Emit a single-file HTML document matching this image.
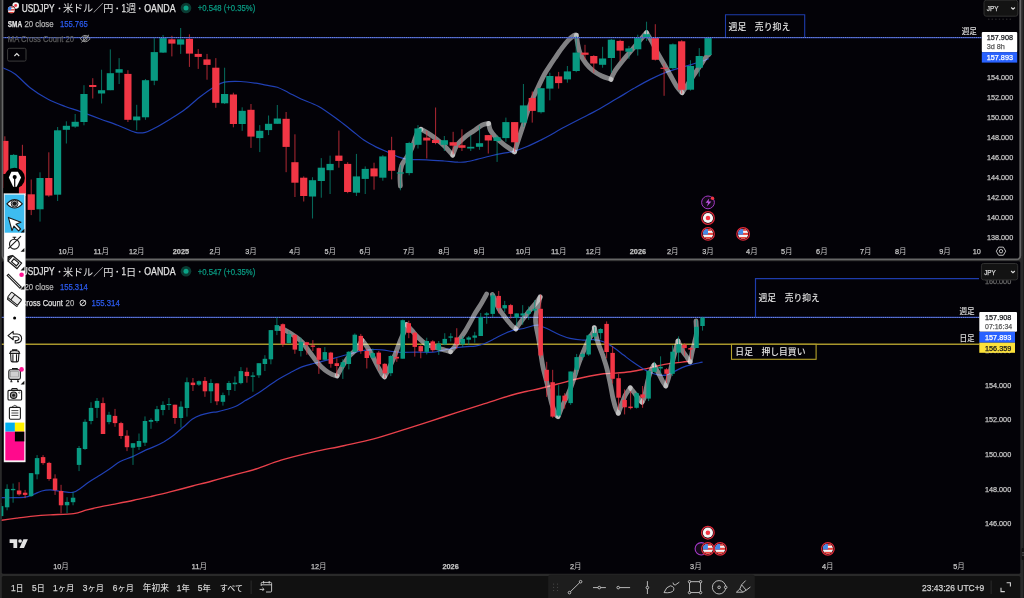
<!DOCTYPE html>
<html><head><meta charset="utf-8"><title>USDJPY</title>
<style>
html,body{margin:0;padding:0;background:#2a2a2a;overflow:hidden}
body{width:1024px;height:598px;font-family:"Liberation Sans",sans-serif}
svg{display:block;will-change:transform;font-family:"Liberation Sans",sans-serif}
.cj{font-family:"Liberation Sans","Noto Sans CJK JP",sans-serif}
</style></head><body>
<svg width="1024" height="598" viewBox="0 0 1024 598">
<rect x="0" y="0" width="1024" height="598" fill="#2a2a2a"/>
<rect x="1023.4" y="0" width="0.6" height="598" fill="#141414"/>
<rect x="1.7" y="-8" width="1019.5" height="268.2" rx="4.5" fill="#666666"/>
<rect x="3.35" y="-8" width="1016" height="266.55" rx="2.8" fill="#030207"/>
<rect x="1.8" y="261.2" width="1018.5" height="312.5" rx="1.5" fill="#030207"/>
<rect x="1.8" y="576" width="1018.5" height="26" rx="1.5" fill="#111111"/>
<clipPath id="ct"><rect x="3.3" y="0" width="1015.9" height="258.5"/></clipPath>
<g id="top" clip-path="url(#ct)">
<path d="M725.5 37.4V14.8H804.7V37.4" fill="none" stroke="#1e3cac" stroke-width="1.1"/>
<text class="cj" x="728.52" y="29.50" font-size="8.9" font-weight="500" fill="#e6e6e6">週足</text>
<text class="cj" x="754.77" y="29.50" font-size="8.9" font-weight="500" fill="#e6e6e6">売り抑え</text>
<path d="M3.3 68.0 C5.2 69.0 10.5 70.6 15.0 73.9 C19.5 77.2 24.7 83.5 30.1 87.7 C35.5 91.9 41.8 95.9 47.6 99.0 C53.5 102.1 59.8 104.4 65.2 106.5 C70.6 108.6 74.4 109.4 80.2 111.5 C86.0 113.6 94.0 116.7 100.3 119.0 C106.6 121.3 112.0 123.1 117.8 125.3 C123.6 127.5 130.7 131.1 135.3 132.3 C139.9 133.5 142.1 133.1 145.4 132.3 C148.8 131.6 151.2 130.0 155.4 127.8 C159.6 125.6 165.4 122.1 170.4 119.0 C175.4 115.9 180.5 112.8 185.5 109.0 C190.5 105.2 195.9 100.0 200.5 96.5 C205.1 93.0 209.0 90.1 213.0 87.7 C217.0 85.3 219.7 83.2 224.3 82.2 C228.9 81.2 235.3 81.3 240.6 81.5 C245.9 81.7 251.8 82.6 256.0 83.2 C260.2 83.8 262.4 84.5 266.0 85.2 C269.6 85.9 273.5 86.0 277.3 87.2 C281.1 88.5 284.6 90.7 288.6 92.7 C292.6 94.7 296.1 96.7 301.1 99.0 C306.1 101.3 312.4 103.0 318.7 106.5 C325.0 110.0 332.4 115.7 338.7 120.3 C345.0 124.9 352.1 130.8 356.3 134.1 C360.5 137.4 360.5 137.9 363.8 140.1 C367.1 142.3 372.1 145.0 376.3 147.1 C380.5 149.2 385.0 150.9 388.8 152.6 C392.6 154.3 395.5 156.0 398.9 157.1 C402.2 158.2 404.3 158.9 408.9 159.4 C413.5 159.9 420.5 159.5 426.4 159.8 C432.2 160.1 438.7 160.6 444.0 161.0 C449.3 161.4 454.3 162.0 458.0 162.2 C461.7 162.3 462.8 162.4 466.0 161.9 C469.2 161.4 472.9 160.4 477.0 159.4 C481.1 158.4 485.9 157.0 490.3 156.0 C494.8 155.0 499.6 154.0 503.7 153.2 C507.8 152.4 510.7 152.1 514.6 151.0 C518.5 149.9 522.8 148.3 527.1 146.5 C531.4 144.7 536.6 142.1 540.5 140.2 C544.4 138.3 546.9 137.1 550.5 135.1 C554.1 133.1 556.0 131.6 562.1 128.3 C568.2 125.0 581.0 118.5 587.4 115.2 C593.8 111.9 595.3 111.4 600.2 108.6 C605.1 105.8 611.3 101.9 616.9 98.6 C622.5 95.3 628.0 91.8 633.6 88.6 C639.2 85.4 644.7 82.2 650.3 79.4 C655.9 76.6 661.5 74.0 667.1 71.9 C672.7 69.8 678.2 68.5 683.8 66.8 C689.4 65.1 696.4 63.1 700.5 61.8 C704.6 60.5 707.2 59.3 708.5 58.8" fill="none" stroke="#2040b4" stroke-width="1.2" stroke-linejoin="round" stroke-linecap="round" />
<path d="M400.4 186.0 C400.3 184.2 399.8 178.8 400.0 175.3 C400.2 171.8 400.7 168.0 401.7 165.2 C402.7 162.4 404.2 161.3 405.9 158.5 C407.6 155.7 410.2 151.8 411.7 148.5 C413.2 145.2 414.1 141.3 415.1 138.5 C416.2 135.7 417.0 133.3 418.0 131.8 C419.0 130.3 420.5 129.7 421.0 129.3" fill="none" stroke="#ffffff" stroke-width="4.8" stroke-linejoin="round" stroke-linecap="round" opacity=".5"/>
<path d="M421.0 129.3 C422.2 130.0 425.9 131.8 428.5 133.5 C431.1 135.2 434.0 137.1 436.8 139.3 C439.6 141.5 442.6 144.2 445.2 146.8 C447.8 149.5 451.4 153.8 452.7 155.2" fill="none" stroke="#ffffff" stroke-width="4.8" stroke-linejoin="round" stroke-linecap="round" opacity=".5"/>
<path d="M452.7 155.2 C453.4 153.5 454.8 148.3 456.9 145.2 C459.0 142.1 462.5 139.2 465.3 136.8 C468.1 134.4 470.8 132.9 473.6 131.0 C476.4 129.1 479.5 126.4 482.0 125.1 C484.5 123.8 487.6 123.7 488.7 123.4" fill="none" stroke="#ffffff" stroke-width="4.8" stroke-linejoin="round" stroke-linecap="round" opacity=".5"/>
<path d="M488.7 123.4 C489.0 124.5 489.2 127.9 490.3 130.1 C491.4 132.3 493.2 134.4 495.4 136.8 C497.6 139.2 500.5 141.8 503.7 144.3 C506.9 146.8 512.8 150.6 514.6 151.9" fill="none" stroke="#ffffff" stroke-width="4.8" stroke-linejoin="round" stroke-linecap="round" opacity=".5"/>
<path d="M514.6 151.9 C515.2 150.1 516.6 145.3 518.0 141.0 C519.4 136.7 521.1 131.8 523.0 126.0 C524.9 120.2 527.2 112.1 529.5 106.0 C531.8 99.9 534.5 94.8 537.0 89.5 C539.5 84.2 542.4 78.0 544.6 74.0 C546.8 70.0 548.3 68.2 550.0 65.5 C551.7 62.8 553.0 60.9 555.0 58.0 C557.0 55.1 559.5 51.4 561.7 48.4 C563.9 45.4 566.3 42.3 568.4 40.1 C570.5 37.9 572.9 36.2 574.2 35.4 C575.5 34.6 576.0 35.1 576.4 35.1" fill="none" stroke="#ffffff" stroke-width="4.8" stroke-linejoin="round" stroke-linecap="round" opacity=".5"/>
<path d="M576.4 35.1 C576.6 36.5 577.0 40.3 577.6 43.4 C578.2 46.5 578.7 50.1 580.1 53.5 C581.5 56.9 583.8 60.6 586.0 63.5 C588.2 66.4 590.9 68.9 593.5 71.0 C596.1 73.1 598.9 74.6 601.8 76.0 C604.7 77.4 609.5 78.8 611.0 79.4" fill="none" stroke="#ffffff" stroke-width="4.8" stroke-linejoin="round" stroke-linecap="round" opacity=".5"/>
<path d="M611.0 79.4 C611.6 78.2 612.6 74.8 614.4 71.9 C616.2 69.0 619.2 65.2 621.9 61.8 C624.5 58.4 627.5 55.1 630.3 51.8 C633.1 48.5 635.9 45.0 638.6 41.8 C641.3 38.6 645.2 34.1 646.5 32.6" fill="none" stroke="#ffffff" stroke-width="4.8" stroke-linejoin="round" stroke-linecap="round" opacity=".5"/>
<path d="M646.5 32.6 C647.4 34.1 650.2 38.6 652.0 41.8 C653.8 45.0 655.0 48.2 657.0 51.8 C659.0 55.4 661.5 59.6 663.7 63.5 C665.9 67.4 668.2 71.3 670.4 75.2 C672.6 79.1 675.1 84.0 677.1 86.9 C679.1 89.8 681.3 91.8 682.1 92.8" fill="none" stroke="#ffffff" stroke-width="4.8" stroke-linejoin="round" stroke-linecap="round" opacity=".5"/>
<path d="M682.1 92.8 C682.9 91.5 685.2 88.1 687.1 85.2 C689.0 82.3 691.6 78.5 693.8 75.2 C696.0 71.9 698.5 68.1 700.5 65.2 C702.5 62.3 704.1 59.4 705.5 57.6 C706.9 55.8 708.3 54.8 708.9 54.3" fill="none" stroke="#ffffff" stroke-width="4.8" stroke-linejoin="round" stroke-linecap="round" opacity=".5"/>
<rect x="4.30" y="136.3" width="1.1" height="55.7" fill="#f23645" opacity=".66"/>
<rect x="1.25" y="140.9" width="7.20" height="47.1" fill="#f23645"/>
<rect x="13.09" y="154.0" width="1.1" height="26.0" fill="#089981" opacity=".66"/>
<rect x="10.04" y="154.9" width="7.20" height="21.1" fill="#089981"/>
<rect x="21.88" y="144.8" width="1.1" height="53.2" fill="#f23645" opacity=".66"/>
<rect x="18.83" y="155.9" width="7.20" height="40.1" fill="#f23645"/>
<rect x="30.67" y="179.5" width="1.1" height="35.6" fill="#f23645" opacity=".66"/>
<rect x="27.62" y="194.3" width="7.20" height="15.6" fill="#f23645"/>
<rect x="39.46" y="172.3" width="1.1" height="49.3" fill="#089981" opacity=".66"/>
<rect x="36.41" y="178.0" width="7.20" height="31.3" fill="#089981"/>
<rect x="48.25" y="152.3" width="1.1" height="44.5" fill="#f23645" opacity=".66"/>
<rect x="45.20" y="178.0" width="7.20" height="17.5" fill="#f23645"/>
<rect x="57.04" y="127.0" width="1.1" height="74.0" fill="#089981" opacity=".66"/>
<rect x="53.99" y="130.3" width="7.20" height="64.4" fill="#089981"/>
<rect x="65.83" y="121.3" width="1.1" height="22.2" fill="#089981" opacity=".66"/>
<rect x="62.78" y="125.8" width="7.20" height="4.0" fill="#089981"/>
<rect x="74.62" y="114.0" width="1.1" height="13.8" fill="#089981" opacity=".66"/>
<rect x="71.57" y="121.8" width="7.20" height="4.8" fill="#089981"/>
<rect x="83.41" y="85.2" width="1.1" height="40.1" fill="#089981" opacity=".66"/>
<rect x="80.36" y="94.0" width="7.20" height="28.0" fill="#089981"/>
<rect x="92.20" y="78.2" width="1.1" height="20.3" fill="#f23645" opacity=".66"/>
<rect x="89.15" y="85.0" width="7.20" height="2.0" fill="#f23645"/>
<rect x="100.99" y="69.7" width="1.1" height="33.8" fill="#089981" opacity=".66"/>
<rect x="97.94" y="90.2" width="7.20" height="3.3" fill="#089981"/>
<rect x="109.78" y="49.4" width="1.1" height="40.8" fill="#089981" opacity=".66"/>
<rect x="106.73" y="73.2" width="7.20" height="17.0" fill="#089981"/>
<rect x="118.57" y="58.1" width="1.1" height="25.9" fill="#089981" opacity=".66"/>
<rect x="115.52" y="69.2" width="7.20" height="3.5" fill="#089981"/>
<rect x="127.36" y="70.2" width="1.1" height="51.8" fill="#f23645" opacity=".66"/>
<rect x="124.31" y="73.9" width="7.20" height="45.9" fill="#f23645"/>
<rect x="136.15" y="104.8" width="1.1" height="25.5" fill="#089981" opacity=".66"/>
<rect x="133.10" y="116.5" width="7.20" height="3.8" fill="#089981"/>
<rect x="144.94" y="79.0" width="1.1" height="40.8" fill="#089981" opacity=".66"/>
<rect x="141.89" y="80.2" width="7.20" height="37.1" fill="#089981"/>
<rect x="153.73" y="37.6" width="1.1" height="47.6" fill="#089981" opacity=".66"/>
<rect x="150.68" y="52.1" width="7.20" height="28.6" fill="#089981"/>
<rect x="162.52" y="35.0" width="1.1" height="18.0" fill="#089981" opacity=".66"/>
<rect x="159.47" y="37.6" width="7.20" height="15.0" fill="#089981"/>
<rect x="171.31" y="35.8" width="1.1" height="20.6" fill="#f23645" opacity=".66"/>
<rect x="168.26" y="39.3" width="7.20" height="4.3" fill="#f23645"/>
<rect x="180.10" y="28.0" width="1.1" height="25.9" fill="#089981" opacity=".66"/>
<rect x="177.05" y="39.3" width="7.20" height="5.3" fill="#089981"/>
<rect x="188.89" y="34.3" width="1.1" height="32.6" fill="#f23645" opacity=".66"/>
<rect x="185.84" y="38.8" width="7.20" height="14.8" fill="#f23645"/>
<rect x="197.68" y="49.1" width="1.1" height="19.8" fill="#f23645" opacity=".66"/>
<rect x="194.63" y="53.9" width="7.20" height="3.0" fill="#f23645"/>
<rect x="206.47" y="53.9" width="1.1" height="25.8" fill="#f23645" opacity=".66"/>
<rect x="203.42" y="59.4" width="7.20" height="5.5" fill="#f23645"/>
<rect x="215.26" y="58.1" width="1.1" height="49.7" fill="#f23645" opacity=".66"/>
<rect x="212.21" y="67.7" width="7.20" height="35.1" fill="#f23645"/>
<rect x="224.05" y="67.7" width="1.1" height="36.3" fill="#089981" opacity=".66"/>
<rect x="221.00" y="94.0" width="7.20" height="9.3" fill="#089981"/>
<rect x="232.84" y="92.7" width="1.1" height="34.6" fill="#f23645" opacity=".66"/>
<rect x="229.79" y="94.5" width="7.20" height="29.5" fill="#f23645"/>
<rect x="241.63" y="107.3" width="1.1" height="23.5" fill="#089981" opacity=".66"/>
<rect x="238.58" y="110.8" width="7.20" height="13.2" fill="#089981"/>
<rect x="250.42" y="104.0" width="1.1" height="43.9" fill="#f23645" opacity=".66"/>
<rect x="247.37" y="109.8" width="7.20" height="26.8" fill="#f23645"/>
<rect x="259.21" y="125.1" width="1.1" height="27.0" fill="#089981" opacity=".66"/>
<rect x="256.16" y="130.8" width="7.20" height="7.3" fill="#089981"/>
<rect x="268.00" y="115.5" width="1.1" height="19.6" fill="#089981" opacity=".66"/>
<rect x="264.95" y="123.8" width="7.20" height="6.3" fill="#089981"/>
<rect x="276.79" y="105.0" width="1.1" height="18.8" fill="#089981" opacity=".66"/>
<rect x="273.74" y="118.5" width="7.20" height="5.3" fill="#089981"/>
<rect x="285.58" y="112.0" width="1.1" height="60.2" fill="#f23645" opacity=".66"/>
<rect x="282.53" y="118.8" width="7.20" height="28.1" fill="#f23645"/>
<rect x="294.37" y="134.3" width="1.1" height="62.7" fill="#f23645" opacity=".66"/>
<rect x="291.32" y="162.2" width="7.20" height="20.5" fill="#f23645"/>
<rect x="303.16" y="176.4" width="1.1" height="25.1" fill="#f23645" opacity=".66"/>
<rect x="300.11" y="177.7" width="7.20" height="18.3" fill="#f23645"/>
<rect x="311.95" y="177.2" width="1.1" height="41.3" fill="#089981" opacity=".66"/>
<rect x="308.90" y="180.2" width="7.20" height="16.3" fill="#089981"/>
<rect x="320.74" y="158.1" width="1.1" height="39.6" fill="#089981" opacity=".66"/>
<rect x="317.69" y="167.7" width="7.20" height="13.3" fill="#089981"/>
<rect x="329.53" y="155.6" width="1.1" height="38.4" fill="#089981" opacity=".66"/>
<rect x="326.48" y="163.9" width="7.20" height="6.3" fill="#089981"/>
<rect x="338.32" y="130.6" width="1.1" height="37.1" fill="#f23645" opacity=".66"/>
<rect x="335.27" y="155.6" width="7.20" height="5.3" fill="#f23645"/>
<rect x="347.11" y="162.2" width="1.1" height="31.0" fill="#f23645" opacity=".66"/>
<rect x="344.06" y="163.9" width="7.20" height="28.1" fill="#f23645"/>
<rect x="355.90" y="153.9" width="1.1" height="42.1" fill="#089981" opacity=".66"/>
<rect x="352.85" y="176.4" width="7.20" height="16.3" fill="#089981"/>
<rect x="364.69" y="166.4" width="1.1" height="27.6" fill="#089981" opacity=".66"/>
<rect x="361.64" y="168.9" width="7.20" height="10.0" fill="#089981"/>
<rect x="373.48" y="162.7" width="1.1" height="27.0" fill="#f23645" opacity=".66"/>
<rect x="370.43" y="168.4" width="7.20" height="8.0" fill="#f23645"/>
<rect x="382.27" y="155.1" width="1.1" height="25.6" fill="#089981" opacity=".66"/>
<rect x="379.22" y="156.4" width="7.20" height="21.3" fill="#089981"/>
<rect x="391.06" y="136.8" width="1.1" height="42.6" fill="#f23645" opacity=".66"/>
<rect x="388.01" y="150.2" width="7.20" height="20.6" fill="#f23645"/>
<rect x="399.85" y="165.2" width="1.1" height="25.1" fill="#089981" opacity=".66"/>
<rect x="396.80" y="172.4" width="7.20" height="1.2" fill="#089981"/>
<rect x="408.64" y="141.8" width="1.1" height="33.5" fill="#089981" opacity=".66"/>
<rect x="405.59" y="143.0" width="7.20" height="30.1" fill="#089981"/>
<rect x="417.43" y="125.1" width="1.1" height="23.4" fill="#089981" opacity=".66"/>
<rect x="414.38" y="128.4" width="7.20" height="16.4" fill="#089981"/>
<rect x="426.22" y="131.0" width="1.1" height="27.5" fill="#f23645" opacity=".66"/>
<rect x="423.17" y="137.6" width="7.20" height="2.9" fill="#f23645"/>
<rect x="435.01" y="107.5" width="1.1" height="36.8" fill="#f23645" opacity=".66"/>
<rect x="431.96" y="139.8" width="7.20" height="3.2" fill="#f23645"/>
<rect x="443.80" y="136.0" width="1.1" height="15.0" fill="#089981" opacity=".66"/>
<rect x="440.75" y="140.2" width="7.20" height="4.6" fill="#089981"/>
<rect x="452.59" y="131.8" width="1.1" height="22.6" fill="#f23645" opacity=".66"/>
<rect x="449.54" y="142.2" width="7.20" height="3.5" fill="#f23645"/>
<rect x="461.38" y="129.3" width="1.1" height="21.7" fill="#f23645" opacity=".66"/>
<rect x="458.33" y="145.2" width="7.20" height="2.6" fill="#f23645"/>
<rect x="470.17" y="135.1" width="1.1" height="15.9" fill="#089981" opacity=".66"/>
<rect x="467.12" y="146.8" width="7.20" height="1.7" fill="#089981"/>
<rect x="478.96" y="125.9" width="1.1" height="23.9" fill="#089981" opacity=".66"/>
<rect x="475.91" y="143.2" width="7.20" height="3.6" fill="#089981"/>
<rect x="487.75" y="135.1" width="1.1" height="18.4" fill="#f23645" opacity=".66"/>
<rect x="484.70" y="135.1" width="7.20" height="5.4" fill="#f23645"/>
<rect x="496.54" y="135.1" width="1.1" height="26.8" fill="#089981" opacity=".66"/>
<rect x="493.49" y="137.3" width="7.20" height="3.7" fill="#089981"/>
<rect x="505.33" y="117.6" width="1.1" height="24.2" fill="#089981" opacity=".66"/>
<rect x="502.28" y="122.1" width="7.20" height="16.0" fill="#089981"/>
<rect x="514.12" y="122.1" width="1.1" height="29.8" fill="#f23645" opacity=".66"/>
<rect x="511.07" y="122.1" width="7.20" height="20.2" fill="#f23645"/>
<rect x="522.91" y="84.0" width="1.1" height="42.8" fill="#089981" opacity=".66"/>
<rect x="519.86" y="105.4" width="7.20" height="17.2" fill="#089981"/>
<rect x="531.70" y="91.5" width="1.1" height="31.1" fill="#f23645" opacity=".66"/>
<rect x="528.65" y="98.0" width="7.20" height="12.9" fill="#f23645"/>
<rect x="540.49" y="88.2" width="1.1" height="25.3" fill="#089981" opacity=".66"/>
<rect x="537.44" y="88.2" width="7.20" height="24.0" fill="#089981"/>
<rect x="549.28" y="72.7" width="1.1" height="27.6" fill="#089981" opacity=".66"/>
<rect x="546.23" y="76.0" width="7.20" height="12.6" fill="#089981"/>
<rect x="558.07" y="71.9" width="1.1" height="16.7" fill="#f23645" opacity=".66"/>
<rect x="555.02" y="76.4" width="7.20" height="6.7" fill="#f23645"/>
<rect x="566.86" y="66.0" width="1.1" height="16.7" fill="#089981" opacity=".66"/>
<rect x="563.81" y="71.4" width="7.20" height="8.0" fill="#089981"/>
<rect x="575.65" y="35.9" width="1.1" height="36.3" fill="#089981" opacity=".66"/>
<rect x="572.60" y="52.6" width="7.20" height="18.4" fill="#089981"/>
<rect x="584.44" y="44.8" width="1.1" height="15.0" fill="#f23645" opacity=".66"/>
<rect x="581.39" y="52.6" width="7.20" height="2.2" fill="#f23645"/>
<rect x="593.23" y="55.1" width="1.1" height="17.6" fill="#f23645" opacity=".66"/>
<rect x="590.18" y="56.0" width="7.20" height="7.5" fill="#f23645"/>
<rect x="602.02" y="46.8" width="1.1" height="20.9" fill="#089981" opacity=".66"/>
<rect x="598.97" y="58.5" width="7.20" height="6.3" fill="#089981"/>
<rect x="610.81" y="38.9" width="1.1" height="33.8" fill="#089981" opacity=".66"/>
<rect x="607.76" y="39.7" width="7.20" height="18.3" fill="#089981"/>
<rect x="619.60" y="39.7" width="1.1" height="21.3" fill="#f23645" opacity=".66"/>
<rect x="616.55" y="40.9" width="7.20" height="9.7" fill="#f23645"/>
<rect x="628.39" y="45.9" width="1.1" height="12.9" fill="#089981" opacity=".66"/>
<rect x="625.34" y="48.4" width="7.20" height="3.4" fill="#089981"/>
<rect x="637.18" y="34.7" width="1.1" height="20.9" fill="#089981" opacity=".66"/>
<rect x="634.13" y="37.6" width="7.20" height="11.7" fill="#089981"/>
<rect x="645.97" y="21.7" width="1.1" height="19.2" fill="#089981" opacity=".66"/>
<rect x="642.92" y="34.2" width="7.20" height="3.0" fill="#089981"/>
<rect x="654.76" y="24.2" width="1.1" height="36.3" fill="#f23645" opacity=".66"/>
<rect x="651.71" y="37.6" width="7.20" height="22.2" fill="#f23645"/>
<rect x="663.55" y="63.5" width="1.1" height="32.3" fill="#f23645" opacity=".66"/>
<rect x="660.50" y="67.7" width="7.20" height="1.1" fill="#f23645"/>
<rect x="672.34" y="43.4" width="1.1" height="25.9" fill="#089981" opacity=".66"/>
<rect x="669.29" y="44.3" width="7.20" height="23.9" fill="#089981"/>
<rect x="681.13" y="40.1" width="1.1" height="53.5" fill="#f23645" opacity=".66"/>
<rect x="678.08" y="41.3" width="7.20" height="48.4" fill="#f23645"/>
<rect x="689.92" y="60.2" width="1.1" height="30.4" fill="#089981" opacity=".66"/>
<rect x="686.87" y="66.0" width="7.20" height="23.7" fill="#089981"/>
<rect x="698.71" y="48.1" width="1.1" height="28.4" fill="#089981" opacity=".66"/>
<rect x="695.66" y="56.0" width="7.20" height="11.7" fill="#089981"/>
<rect x="707.50" y="36.7" width="1.1" height="18.9" fill="#089981" opacity=".66"/>
<rect x="704.45" y="37.6" width="7.20" height="17.5" fill="#089981"/>
<line x1="3.3" y1="37.55" x2="981.5" y2="37.55" stroke="#2946ba" stroke-width="1.3"/>
<line x1="3.3" y1="37.55" x2="981.5" y2="37.55" stroke="#c4cae8" stroke-width="1" stroke-dasharray="0.9 1.0" opacity=".6"/>
</g>
<clipPath id="cb"><rect x="1.6" y="261.3" width="1018.7" height="312.5"/></clipPath>
<g id="bot" clip-path="url(#cb)">
<line x1="1.6" y1="317.45" x2="979.3" y2="317.45" stroke="#2946ba" stroke-width="1.3"/>
<line x1="1.6" y1="317.45" x2="979.3" y2="317.45" stroke="#c4cae8" stroke-width="1" stroke-dasharray="0.9 1.0" opacity=".6"/>
<line x1="1.6" y1="344.2" x2="979.3" y2="344.2" stroke="#a8962c" stroke-width="1.5"/>
<path d="M755.5 317.4V278.6H979" fill="none" stroke="#1e3cac" stroke-width="1.2"/>
<text class="cj" x="758.55" y="301.40" font-size="8.8" font-weight="500" fill="#e6e6e6">週足</text>
<text class="cj" x="784.65" y="301.40" font-size="8.8" font-weight="500" fill="#e6e6e6">売り抑え</text>
<rect x="731.5" y="344.3" width="84.6" height="15" fill="#030207" stroke="#b5a22c" stroke-width="1.1"/>
<text class="cj" x="735.35" y="355.20" font-size="8.8" font-weight="500" fill="#e6e6e6">日足</text>
<text class="cj" x="761.45" y="355.20" font-size="8.8" font-weight="500" fill="#e6e6e6">押し目買い</text>
<path d="M1.7 520.3 C4.2 519.9 11.4 518.8 16.7 518.1 C22.0 517.4 27.8 516.6 33.4 516.1 C39.0 515.6 43.5 515.3 50.2 514.9 C56.9 514.5 67.5 514.4 73.6 513.6 C79.7 512.8 82.5 511.0 87.0 509.9 C91.5 508.8 95.3 507.9 100.3 506.9 C105.3 505.8 111.4 504.7 117.0 503.6 C122.6 502.5 128.2 501.4 133.8 500.2 C139.4 499.0 144.5 498.0 150.5 496.6 C156.5 495.2 163.0 493.7 170.0 491.9 C177.0 490.1 185.5 487.8 192.5 486.0 C199.5 484.2 205.4 482.8 212.0 481.0 C218.6 479.2 224.7 477.5 232.0 475.5 C239.3 473.5 247.8 471.6 256.0 469.0 C264.2 466.4 271.5 463.1 281.1 460.2 C290.7 457.3 303.2 454.3 313.6 451.9 C324.0 449.5 333.7 447.9 343.7 445.7 C353.7 443.5 363.4 441.7 373.8 438.9 C384.2 436.1 396.8 431.9 406.4 428.9 C416.0 425.9 423.0 423.6 431.4 420.9 C439.8 418.2 448.1 415.3 456.5 412.6 C464.9 409.9 472.4 407.5 481.6 404.6 C490.9 401.7 504.6 397.2 512.0 395.0 C519.4 392.8 521.3 392.6 526.0 391.5 C530.7 390.4 534.9 389.7 540.0 388.5 C545.1 387.3 551.1 385.8 556.7 384.3 C562.3 382.9 567.8 381.2 573.4 379.8 C579.0 378.4 585.2 377.0 590.2 376.0 C595.2 375.0 599.3 374.3 603.5 373.8 C607.7 373.3 610.8 373.4 615.3 373.1 C619.8 372.8 625.6 372.4 630.3 371.8 C635.0 371.2 639.2 370.3 643.7 369.3 C648.2 368.3 652.7 367.0 657.1 366.0 C661.5 365.0 666.2 364.0 670.4 363.4 C674.6 362.8 679.0 362.5 682.1 362.1 C685.2 361.8 687.9 361.4 689.0 361.3" fill="none" stroke="#e8414b" stroke-width="1.4" stroke-linejoin="round" stroke-linecap="round" />
<path d="M1.7 497.7 C3.7 497.7 9.5 497.8 13.4 497.7 C17.3 497.6 21.8 497.8 25.1 497.2 C28.4 496.6 30.6 495.4 33.4 494.4 C36.2 493.4 39.0 491.8 41.8 491.0 C44.6 490.2 47.4 489.9 50.2 489.9 C53.0 489.9 55.7 490.6 58.5 491.0 C61.3 491.4 64.4 492.0 66.9 492.2 C69.4 492.4 71.4 492.8 73.6 492.2 C75.8 491.6 77.8 490.2 80.3 488.5 C82.8 486.8 85.6 484.3 88.6 482.2 C91.6 480.1 94.9 478.4 98.5 476.1 C102.1 473.8 106.6 471.0 110.2 468.6 C113.8 466.2 116.6 463.4 120.2 461.5 C123.8 459.6 128.0 458.6 131.9 456.9 C135.8 455.2 140.0 452.8 143.6 451.1 C147.2 449.4 150.2 448.4 153.6 446.9 C156.9 445.4 160.3 443.8 163.7 441.9 C167.0 439.9 170.4 437.7 173.7 435.2 C177.0 432.7 180.6 429.4 183.7 426.8 C186.8 424.2 189.3 421.2 192.1 419.3 C194.9 417.4 197.4 416.2 200.5 415.1 C203.6 414.0 207.7 413.2 210.5 412.6 C213.3 412.1 214.7 412.3 217.2 411.8 C219.7 411.3 222.3 410.7 225.3 409.8 C228.3 408.9 232.0 408.0 235.3 406.5 C238.6 405.0 242.0 402.6 245.3 400.6 C248.7 398.7 252.1 396.9 255.4 394.8 C258.8 392.7 261.8 390.6 265.4 388.2 C269.0 385.8 272.7 382.8 276.8 380.2 C280.9 377.6 286.0 374.9 290.2 372.7 C294.4 370.5 298.0 368.4 301.9 366.9 C305.8 365.4 309.4 364.6 313.6 363.5 C317.8 362.4 322.6 361.4 327.0 360.2 C331.4 359.0 336.4 357.6 340.3 356.5 C344.2 355.4 347.0 354.7 350.4 353.8 C353.8 352.9 356.8 351.7 360.4 351.0 C364.0 350.3 368.5 349.8 372.1 349.6 C375.7 349.4 378.8 349.5 382.1 349.8 C385.5 350.1 389.1 351.1 392.2 351.5 C395.3 351.9 396.4 352.2 400.5 352.3 C404.6 352.4 411.2 352.2 416.7 352.2 C422.2 352.2 428.9 352.5 433.4 352.2 C437.9 351.9 439.9 350.9 443.5 350.2 C447.1 349.4 451.3 348.3 455.2 347.7 C459.1 347.1 463.5 346.9 466.9 346.6 C470.2 346.3 472.2 346.7 475.3 346.1 C478.4 345.5 482.0 344.5 485.3 343.2 C488.6 341.9 492.0 339.9 495.3 338.2 C498.6 336.5 502.0 334.6 505.4 333.2 C508.8 331.8 512.3 330.5 515.4 329.7 C518.5 328.9 520.6 329.2 523.7 328.5 C526.8 327.8 531.3 326.1 533.8 325.5 C536.3 324.9 537.1 324.9 538.8 325.2 C540.5 325.5 541.9 326.4 543.8 327.2 C545.7 328.0 547.3 328.7 550.0 330.0 C552.7 331.3 556.8 333.6 560.1 335.0 C563.5 336.4 566.5 337.6 570.1 338.4 C573.7 339.2 577.9 339.8 581.8 340.0 C585.7 340.2 589.9 339.4 593.5 339.7 C597.1 340.0 600.1 340.4 603.5 341.7 C606.9 343.0 610.2 345.4 613.6 347.6 C617.0 349.8 620.3 352.6 623.6 355.1 C626.9 357.6 630.2 360.2 633.6 362.6 C637.0 365.0 640.4 367.4 643.7 369.3 C647.1 371.2 650.9 372.8 653.7 373.8 C656.5 374.8 658.2 375.0 660.4 375.2 C662.6 375.4 664.9 375.4 667.1 374.8 C669.3 374.2 671.3 373.0 673.8 371.8 C676.3 370.6 679.3 368.8 682.1 367.6 C684.9 366.4 687.1 365.7 690.5 364.8 C693.9 363.9 700.2 362.6 702.2 362.1" fill="none" stroke="#2040b4" stroke-width="1.2" stroke-linejoin="round" stroke-linecap="round" />
<path d="M280.1 328.4 C280.9 328.7 282.5 328.8 285.0 330.1 C287.5 331.4 292.2 334.3 295.1 336.4 C298.0 338.5 300.1 340.0 302.6 342.7 C305.1 345.4 307.6 349.4 310.1 352.7 C312.6 356.0 315.1 359.8 317.6 362.7 C320.1 365.6 322.6 368.2 325.1 370.2 C327.6 372.2 330.7 373.7 332.7 374.7 C334.7 375.7 336.3 375.8 337.0 376.0" fill="none" stroke="#ffffff" stroke-width="4.8" stroke-linejoin="round" stroke-linecap="round" opacity=".5"/>
<path d="M337.0 376.0 C337.8 374.5 340.1 370.2 342.0 367.0 C343.9 363.8 346.2 359.9 348.7 356.8 C351.2 353.7 354.8 351.3 357.0 348.5 C359.2 345.7 361.2 341.4 362.0 340.0" fill="none" stroke="#ffffff" stroke-width="4.8" stroke-linejoin="round" stroke-linecap="round" opacity=".5"/>
<path d="M362.0 340.0 C362.9 341.1 365.4 344.3 367.1 346.8 C368.8 349.3 370.4 352.1 372.1 355.2 C373.8 358.3 375.4 362.0 377.1 365.2 C378.8 368.4 380.9 372.4 382.1 374.4 C383.4 376.3 384.2 376.5 384.6 376.9" fill="none" stroke="#ffffff" stroke-width="4.8" stroke-linejoin="round" stroke-linecap="round" opacity=".5"/>
<path d="M384.6 376.9 C385.6 374.9 388.7 369.1 390.5 365.2 C392.3 361.3 393.8 357.7 395.5 353.5 C397.2 349.3 398.8 344.3 400.5 340.1 C402.2 335.9 404.6 331.0 405.6 328.4 C406.6 325.8 406.4 325.1 406.5 324.5" fill="none" stroke="#ffffff" stroke-width="4.8" stroke-linejoin="round" stroke-linecap="round" opacity=".5"/>
<path d="M406.5 324.5 C407.4 325.4 409.7 328.0 411.7 330.2 C413.7 332.4 415.9 335.3 418.4 337.7 C420.9 340.1 423.7 342.7 426.8 344.4 C429.9 346.1 433.7 346.7 436.8 347.7 C439.9 348.7 442.9 349.5 445.2 350.2 C447.5 350.9 449.6 351.5 450.5 351.8" fill="none" stroke="#ffffff" stroke-width="4.8" stroke-linejoin="round" stroke-linecap="round" opacity=".5"/>
<path d="M450.5 351.8 C451.2 350.9 453.4 348.5 455.0 346.4 C456.6 344.2 458.3 341.4 460.0 338.9 C461.7 336.4 463.4 334.1 465.1 331.4 C466.8 328.7 468.5 325.4 470.1 322.6 C471.7 319.8 473.1 316.9 474.5 314.4 C475.9 311.9 477.4 309.8 478.8 307.6 C480.2 305.4 481.5 303.3 482.6 301.3 C483.8 299.3 485.0 296.9 485.7 295.7 C486.4 294.5 486.5 294.3 486.6 294.0" fill="none" stroke="#ffffff" stroke-width="4.8" stroke-linejoin="round" stroke-linecap="round" opacity=".5"/>
<path d="M492.4 294.5 C492.8 295.4 493.9 297.6 495.0 300.0 C496.1 302.4 497.2 305.9 498.9 308.8 C500.6 311.7 503.1 314.9 505.2 317.6 C507.3 320.3 509.6 323.2 511.4 325.1 C513.2 327.0 515.1 328.3 515.8 328.9" fill="none" stroke="#ffffff" stroke-width="4.8" stroke-linejoin="round" stroke-linecap="round" opacity=".5"/>
<path d="M515.8 328.9 C516.5 327.8 518.4 325.0 520.2 322.6 C522.0 320.2 524.4 317.0 526.5 314.4 C528.6 311.8 530.8 309.2 532.7 306.9 C534.6 304.6 536.4 302.3 537.7 300.7 C539.0 299.1 539.9 297.8 540.3 297.2" fill="none" stroke="#ffffff" stroke-width="4.8" stroke-linejoin="round" stroke-linecap="round" opacity=".5"/>
<path d="M540.1 296.7 C539.6 298.9 537.9 306.4 537.1 310.1 C536.3 313.8 535.6 316.1 535.5 318.8 C535.4 321.5 535.7 323.2 536.2 326.4 C536.7 329.6 537.8 334.1 538.5 338.0 C539.2 341.9 540.0 346.6 540.5 350.0 C541.0 353.4 541.0 355.3 541.5 358.4 C542.0 361.5 542.3 364.0 543.3 368.5 C544.3 373.0 546.1 379.3 547.5 385.2 C548.9 391.1 550.3 398.7 551.7 403.6 C553.1 408.5 554.8 412.2 555.9 414.4 C557.0 416.6 557.7 416.2 558.1 416.6" fill="none" stroke="#ffffff" stroke-width="4.8" stroke-linejoin="round" stroke-linecap="round" opacity=".5"/>
<path d="M558.1 416.6 C558.9 414.7 560.9 409.2 562.6 405.3 C564.3 401.4 566.6 397.7 568.4 393.5 C570.2 389.3 571.9 384.6 573.4 380.2 C574.9 375.8 576.1 371.3 577.6 366.8 C579.1 362.3 580.8 357.9 582.6 353.4 C584.4 348.9 586.7 343.6 588.5 340.0 C590.3 336.4 592.5 333.8 593.5 331.7 C594.5 329.6 594.2 328.3 594.3 327.6" fill="none" stroke="#ffffff" stroke-width="4.8" stroke-linejoin="round" stroke-linecap="round" opacity=".5"/>
<path d="M594.3 327.6 C594.9 330.0 596.3 337.1 597.7 341.7 C599.1 346.3 601.2 350.6 602.7 355.1 C604.2 359.6 605.6 363.8 606.9 368.5 C608.1 373.2 609.2 378.8 610.2 383.5 C611.2 388.2 611.9 393.0 612.7 396.9 C613.6 400.8 614.4 404.2 615.3 406.9 C616.2 409.6 617.8 412.2 618.3 413.3" fill="none" stroke="#ffffff" stroke-width="4.8" stroke-linejoin="round" stroke-linecap="round" opacity=".5"/>
<path d="M618.3 413.3 C618.9 411.7 620.7 406.6 621.9 403.6 C623.1 400.6 623.9 397.9 625.3 395.2 C626.7 392.5 629.5 388.9 630.3 387.7" fill="none" stroke="#ffffff" stroke-width="4.8" stroke-linejoin="round" stroke-linecap="round" opacity=".5"/>
<path d="M630.3 387.7 C630.8 388.4 632.2 390.1 633.6 391.9 C635.0 393.7 637.3 396.9 638.7 398.6 C640.1 400.3 641.5 401.6 642.0 402.2" fill="none" stroke="#ffffff" stroke-width="4.8" stroke-linejoin="round" stroke-linecap="round" opacity=".5"/>
<path d="M642.0 402.2 C642.4 401.3 643.5 400.6 644.5 396.9 C645.5 393.2 646.8 384.7 647.9 380.2 C649.0 375.7 650.2 372.6 651.2 370.1 C652.2 367.6 653.5 365.9 654.0 365.1" fill="none" stroke="#ffffff" stroke-width="4.8" stroke-linejoin="round" stroke-linecap="round" opacity=".5"/>
<path d="M654.0 365.1 C654.8 366.5 657.2 370.7 658.7 373.5 C660.2 376.3 661.7 379.7 662.9 381.8 C664.1 383.9 665.3 385.3 665.8 386.0" fill="none" stroke="#ffffff" stroke-width="4.8" stroke-linejoin="round" stroke-linecap="round" opacity=".5"/>
<path d="M665.8 386.0 C666.3 384.5 667.8 380.6 668.8 376.8 C669.8 373.0 671.0 367.8 672.1 363.4 C673.2 358.9 674.5 353.9 675.5 350.1 C676.5 346.4 677.6 342.4 678.0 340.9" fill="none" stroke="#ffffff" stroke-width="4.8" stroke-linejoin="round" stroke-linecap="round" opacity=".5"/>
<path d="M678.0 340.9 C678.7 342.4 680.6 347.3 682.1 350.1 C683.6 352.9 685.9 355.7 687.2 357.6 C688.6 359.6 689.7 361.1 690.2 361.8" fill="none" stroke="#ffffff" stroke-width="4.8" stroke-linejoin="round" stroke-linecap="round" opacity=".5"/>
<path d="M690.2 361.8 C690.5 360.1 691.5 355.1 692.2 351.7 C693.0 348.3 694.0 344.8 694.7 341.7 C695.4 338.6 696.2 336.8 696.4 333.3 C696.6 329.9 696.1 323.1 696.0 321.0" fill="none" stroke="#ffffff" stroke-width="4.8" stroke-linejoin="round" stroke-linecap="round" opacity=".5"/>
<rect x="0.55" y="503.0" width="1.1" height="16.0" fill="#089981" opacity=".66"/>
<rect x="-1.15" y="506.1" width="4.50" height="10.0" fill="#089981"/>
<rect x="6.55" y="484.3" width="1.1" height="26.0" fill="#089981" opacity=".66"/>
<rect x="4.85" y="488.9" width="4.50" height="18.4" fill="#089981"/>
<rect x="12.54" y="483.5" width="1.1" height="19.2" fill="#089981" opacity=".66"/>
<rect x="10.84" y="488.9" width="4.50" height="1.3" fill="#089981"/>
<rect x="18.54" y="482.2" width="1.1" height="13.4" fill="#f23645" opacity=".66"/>
<rect x="16.84" y="490.5" width="4.50" height="3.9" fill="#f23645"/>
<rect x="24.54" y="489.9" width="1.1" height="8.3" fill="#f23645" opacity=".66"/>
<rect x="22.84" y="492.7" width="4.50" height="2.2" fill="#f23645"/>
<rect x="30.53" y="473.1" width="1.1" height="23.8" fill="#089981" opacity=".66"/>
<rect x="28.83" y="473.1" width="4.50" height="23.0" fill="#089981"/>
<rect x="36.53" y="455.1" width="1.1" height="24.2" fill="#089981" opacity=".66"/>
<rect x="34.83" y="458.1" width="4.50" height="16.2" fill="#089981"/>
<rect x="42.52" y="455.1" width="1.1" height="9.7" fill="#f23645" opacity=".66"/>
<rect x="40.82" y="457.1" width="4.50" height="6.0" fill="#f23645"/>
<rect x="48.52" y="461.8" width="1.1" height="18.9" fill="#f23645" opacity=".66"/>
<rect x="46.82" y="462.9" width="4.50" height="16.1" fill="#f23645"/>
<rect x="54.51" y="474.3" width="1.1" height="20.6" fill="#f23645" opacity=".66"/>
<rect x="52.81" y="478.5" width="4.50" height="11.7" fill="#f23645"/>
<rect x="60.51" y="484.8" width="1.1" height="28.5" fill="#f23645" opacity=".66"/>
<rect x="58.80" y="491.0" width="4.50" height="14.3" fill="#f23645"/>
<rect x="66.50" y="497.2" width="1.1" height="15.9" fill="#089981" opacity=".66"/>
<rect x="64.80" y="501.9" width="4.50" height="3.4" fill="#089981"/>
<rect x="72.50" y="492.2" width="1.1" height="13.1" fill="#089981" opacity=".66"/>
<rect x="70.80" y="497.7" width="4.50" height="4.5" fill="#089981"/>
<rect x="78.49" y="446.0" width="1.1" height="25.1" fill="#089981" opacity=".66"/>
<rect x="76.79" y="448.0" width="4.50" height="16.9" fill="#089981"/>
<rect x="84.48" y="419.3" width="1.1" height="30.6" fill="#089981" opacity=".66"/>
<rect x="82.78" y="421.8" width="4.50" height="27.2" fill="#089981"/>
<rect x="90.48" y="402.2" width="1.1" height="22.1" fill="#089981" opacity=".66"/>
<rect x="88.78" y="407.9" width="4.50" height="13.1" fill="#089981"/>
<rect x="96.47" y="398.0" width="1.1" height="19.9" fill="#089981" opacity=".66"/>
<rect x="94.77" y="400.9" width="4.50" height="7.0" fill="#089981"/>
<rect x="102.47" y="397.5" width="1.1" height="36.5" fill="#f23645" opacity=".66"/>
<rect x="100.77" y="403.1" width="4.50" height="30.9" fill="#f23645"/>
<rect x="108.47" y="411.8" width="1.1" height="12.5" fill="#089981" opacity=".66"/>
<rect x="106.77" y="414.8" width="4.50" height="7.3" fill="#089981"/>
<rect x="114.46" y="408.9" width="1.1" height="17.9" fill="#f23645" opacity=".66"/>
<rect x="112.76" y="415.9" width="4.50" height="7.2" fill="#f23645"/>
<rect x="120.45" y="421.8" width="1.1" height="17.0" fill="#f23645" opacity=".66"/>
<rect x="118.75" y="423.1" width="4.50" height="12.9" fill="#f23645"/>
<rect x="126.45" y="430.2" width="1.1" height="20.9" fill="#f23645" opacity=".66"/>
<rect x="124.75" y="435.7" width="4.50" height="11.5" fill="#f23645"/>
<rect x="132.44" y="443.2" width="1.1" height="21.7" fill="#089981" opacity=".66"/>
<rect x="130.75" y="443.2" width="4.50" height="4.5" fill="#089981"/>
<rect x="138.44" y="433.5" width="1.1" height="16.4" fill="#089981" opacity=".66"/>
<rect x="136.74" y="441.0" width="4.50" height="5.9" fill="#089981"/>
<rect x="144.43" y="416.4" width="1.1" height="29.6" fill="#089981" opacity=".66"/>
<rect x="142.73" y="421.0" width="4.50" height="21.7" fill="#089981"/>
<rect x="150.43" y="418.4" width="1.1" height="10.4" fill="#089981" opacity=".66"/>
<rect x="148.73" y="420.0" width="4.50" height="1.8" fill="#089981"/>
<rect x="156.42" y="405.9" width="1.1" height="16.7" fill="#089981" opacity=".66"/>
<rect x="154.72" y="409.2" width="4.50" height="11.8" fill="#089981"/>
<rect x="162.42" y="401.3" width="1.1" height="14.0" fill="#089981" opacity=".66"/>
<rect x="160.72" y="404.9" width="4.50" height="5.1" fill="#089981"/>
<rect x="168.41" y="398.0" width="1.1" height="12.0" fill="#089981" opacity=".66"/>
<rect x="166.72" y="404.0" width="4.50" height="1.1" fill="#089981"/>
<rect x="174.41" y="404.7" width="1.1" height="19.1" fill="#f23645" opacity=".66"/>
<rect x="172.71" y="404.7" width="4.50" height="13.3" fill="#f23645"/>
<rect x="180.40" y="401.3" width="1.1" height="26.3" fill="#089981" opacity=".66"/>
<rect x="178.70" y="406.7" width="4.50" height="11.3" fill="#089981"/>
<rect x="186.40" y="377.5" width="1.1" height="39.1" fill="#089981" opacity=".66"/>
<rect x="184.70" y="382.2" width="4.50" height="25.8" fill="#089981"/>
<rect x="192.39" y="378.0" width="1.1" height="13.0" fill="#f23645" opacity=".66"/>
<rect x="190.69" y="382.6" width="4.50" height="2.5" fill="#f23645"/>
<rect x="198.39" y="380.4" width="1.1" height="5.5" fill="#089981" opacity=".66"/>
<rect x="196.69" y="381.2" width="4.50" height="3.5" fill="#089981"/>
<rect x="204.38" y="377.0" width="1.1" height="19.8" fill="#f23645" opacity=".66"/>
<rect x="202.69" y="380.9" width="4.50" height="10.4" fill="#f23645"/>
<rect x="210.38" y="379.2" width="1.1" height="23.9" fill="#089981" opacity=".66"/>
<rect x="208.68" y="383.0" width="4.50" height="8.3" fill="#089981"/>
<rect x="216.38" y="383.0" width="1.1" height="22.1" fill="#f23645" opacity=".66"/>
<rect x="214.68" y="383.4" width="4.50" height="17.9" fill="#f23645"/>
<rect x="222.37" y="392.6" width="1.1" height="13.0" fill="#089981" opacity=".66"/>
<rect x="220.67" y="395.1" width="4.50" height="6.7" fill="#089981"/>
<rect x="228.36" y="380.9" width="1.1" height="14.5" fill="#089981" opacity=".66"/>
<rect x="226.66" y="383.0" width="4.50" height="7.0" fill="#089981"/>
<rect x="234.36" y="376.4" width="1.1" height="14.6" fill="#089981" opacity=".66"/>
<rect x="232.66" y="382.6" width="4.50" height="1.6" fill="#089981"/>
<rect x="240.35" y="367.1" width="1.1" height="17.2" fill="#089981" opacity=".66"/>
<rect x="238.66" y="371.1" width="4.50" height="12.0" fill="#089981"/>
<rect x="246.35" y="367.6" width="1.1" height="15.1" fill="#f23645" opacity=".66"/>
<rect x="244.65" y="371.8" width="4.50" height="4.3" fill="#f23645"/>
<rect x="252.34" y="372.1" width="1.1" height="19.6" fill="#089981" opacity=".66"/>
<rect x="250.65" y="375.5" width="4.50" height="1.3" fill="#089981"/>
<rect x="258.34" y="363.2" width="1.1" height="14.6" fill="#089981" opacity=".66"/>
<rect x="256.64" y="363.2" width="4.50" height="12.1" fill="#089981"/>
<rect x="264.34" y="355.2" width="1.1" height="15.8" fill="#089981" opacity=".66"/>
<rect x="262.64" y="358.8" width="4.50" height="5.2" fill="#089981"/>
<rect x="270.33" y="330.1" width="1.1" height="34.2" fill="#089981" opacity=".66"/>
<rect x="268.63" y="330.1" width="4.50" height="29.2" fill="#089981"/>
<rect x="276.32" y="317.5" width="1.1" height="17.6" fill="#089981" opacity=".66"/>
<rect x="274.62" y="325.1" width="4.50" height="5.8" fill="#089981"/>
<rect x="282.32" y="323.4" width="1.1" height="23.4" fill="#f23645" opacity=".66"/>
<rect x="280.62" y="324.2" width="4.50" height="20.1" fill="#f23645"/>
<rect x="288.31" y="330.9" width="1.1" height="12.5" fill="#089981" opacity=".66"/>
<rect x="286.62" y="334.2" width="4.50" height="8.9" fill="#089981"/>
<rect x="294.31" y="333.9" width="1.1" height="19.9" fill="#f23645" opacity=".66"/>
<rect x="292.61" y="335.1" width="4.50" height="14.5" fill="#f23645"/>
<rect x="300.31" y="337.6" width="1.1" height="18.9" fill="#089981" opacity=".66"/>
<rect x="298.61" y="341.8" width="4.50" height="9.2" fill="#089981"/>
<rect x="306.30" y="341.8" width="1.1" height="13.0" fill="#f23645" opacity=".66"/>
<rect x="304.60" y="342.3" width="4.50" height="2.8" fill="#f23645"/>
<rect x="312.30" y="340.1" width="1.1" height="10.9" fill="#f23645" opacity=".66"/>
<rect x="310.60" y="345.5" width="4.50" height="1.3" fill="#f23645"/>
<rect x="318.29" y="347.6" width="1.1" height="26.3" fill="#f23645" opacity=".66"/>
<rect x="316.59" y="348.1" width="4.50" height="11.7" fill="#f23645"/>
<rect x="324.29" y="347.1" width="1.1" height="13.1" fill="#089981" opacity=".66"/>
<rect x="322.59" y="352.1" width="4.50" height="7.7" fill="#089981"/>
<rect x="330.28" y="351.8" width="1.1" height="15.9" fill="#f23645" opacity=".66"/>
<rect x="328.58" y="352.6" width="4.50" height="11.2" fill="#f23645"/>
<rect x="336.28" y="358.2" width="1.1" height="17.9" fill="#f23645" opacity=".66"/>
<rect x="334.58" y="363.2" width="4.50" height="2.8" fill="#f23645"/>
<rect x="342.27" y="359.3" width="1.1" height="19.6" fill="#089981" opacity=".66"/>
<rect x="340.57" y="362.2" width="4.50" height="4.7" fill="#089981"/>
<rect x="348.27" y="351.0" width="1.1" height="18.4" fill="#089981" opacity=".66"/>
<rect x="346.57" y="351.8" width="4.50" height="12.2" fill="#089981"/>
<rect x="354.26" y="333.4" width="1.1" height="19.2" fill="#089981" opacity=".66"/>
<rect x="352.56" y="334.7" width="4.50" height="17.1" fill="#089981"/>
<rect x="360.25" y="333.9" width="1.1" height="19.9" fill="#f23645" opacity=".66"/>
<rect x="358.56" y="335.9" width="4.50" height="15.1" fill="#f23645"/>
<rect x="366.25" y="348.5" width="1.1" height="20.0" fill="#f23645" opacity=".66"/>
<rect x="364.55" y="351.0" width="4.50" height="7.0" fill="#f23645"/>
<rect x="372.25" y="348.5" width="1.1" height="10.0" fill="#089981" opacity=".66"/>
<rect x="370.55" y="353.1" width="4.50" height="4.6" fill="#089981"/>
<rect x="378.24" y="351.0" width="1.1" height="19.5" fill="#f23645" opacity=".66"/>
<rect x="376.54" y="352.6" width="4.50" height="11.7" fill="#f23645"/>
<rect x="384.24" y="363.2" width="1.1" height="15.0" fill="#f23645" opacity=".66"/>
<rect x="382.54" y="363.8" width="4.50" height="9.4" fill="#f23645"/>
<rect x="390.23" y="355.2" width="1.1" height="20.9" fill="#089981" opacity=".66"/>
<rect x="388.53" y="356.0" width="4.50" height="17.2" fill="#089981"/>
<rect x="396.23" y="351.0" width="1.1" height="10.8" fill="#f23645" opacity=".66"/>
<rect x="394.53" y="356.8" width="4.50" height="1.7" fill="#f23645"/>
<rect x="402.22" y="319.5" width="1.1" height="39.2" fill="#089981" opacity=".66"/>
<rect x="400.52" y="320.2" width="4.50" height="38.5" fill="#089981"/>
<rect x="408.22" y="320.7" width="1.1" height="17.5" fill="#f23645" opacity=".66"/>
<rect x="406.52" y="323.2" width="4.50" height="9.6" fill="#f23645"/>
<rect x="414.21" y="331.8" width="1.1" height="24.8" fill="#f23645" opacity=".66"/>
<rect x="412.51" y="332.7" width="4.50" height="14.2" fill="#f23645"/>
<rect x="420.21" y="345.2" width="1.1" height="13.1" fill="#f23645" opacity=".66"/>
<rect x="418.51" y="346.1" width="4.50" height="5.3" fill="#f23645"/>
<rect x="426.20" y="337.7" width="1.1" height="16.7" fill="#089981" opacity=".66"/>
<rect x="424.50" y="341.0" width="4.50" height="10.9" fill="#089981"/>
<rect x="432.19" y="340.2" width="1.1" height="11.7" fill="#f23645" opacity=".66"/>
<rect x="430.50" y="341.4" width="4.50" height="8.8" fill="#f23645"/>
<rect x="438.19" y="341.0" width="1.1" height="13.9" fill="#089981" opacity=".66"/>
<rect x="436.49" y="343.5" width="4.50" height="6.4" fill="#089981"/>
<rect x="444.19" y="333.2" width="1.1" height="12.0" fill="#089981" opacity=".66"/>
<rect x="442.49" y="338.9" width="4.50" height="5.5" fill="#089981"/>
<rect x="450.18" y="333.2" width="1.1" height="8.3" fill="#089981" opacity=".66"/>
<rect x="448.48" y="336.4" width="4.50" height="1.3" fill="#089981"/>
<rect x="456.18" y="328.2" width="1.1" height="20.7" fill="#f23645" opacity=".66"/>
<rect x="454.48" y="337.4" width="4.50" height="7.0" fill="#f23645"/>
<rect x="462.17" y="336.0" width="1.1" height="10.9" fill="#089981" opacity=".66"/>
<rect x="460.47" y="338.9" width="4.50" height="5.5" fill="#089981"/>
<rect x="468.17" y="336.0" width="1.1" height="9.2" fill="#089981" opacity=".66"/>
<rect x="466.47" y="337.4" width="4.50" height="2.3" fill="#089981"/>
<rect x="474.16" y="331.8" width="1.1" height="10.9" fill="#089981" opacity=".66"/>
<rect x="472.46" y="335.5" width="4.50" height="2.2" fill="#089981"/>
<rect x="480.16" y="312.9" width="1.1" height="23.1" fill="#089981" opacity=".66"/>
<rect x="478.46" y="317.1" width="4.50" height="18.9" fill="#089981"/>
<rect x="486.15" y="312.1" width="1.1" height="11.7" fill="#089981" opacity=".66"/>
<rect x="484.45" y="313.4" width="4.50" height="1.4" fill="#089981"/>
<rect x="492.15" y="293.0" width="1.1" height="24.1" fill="#089981" opacity=".66"/>
<rect x="490.45" y="295.4" width="4.50" height="18.5" fill="#089981"/>
<rect x="498.14" y="290.9" width="1.1" height="22.5" fill="#f23645" opacity=".66"/>
<rect x="496.44" y="295.9" width="4.50" height="12.2" fill="#f23645"/>
<rect x="504.14" y="300.9" width="1.1" height="11.2" fill="#089981" opacity=".66"/>
<rect x="502.44" y="305.1" width="4.50" height="3.3" fill="#089981"/>
<rect x="510.13" y="303.9" width="1.1" height="14.6" fill="#f23645" opacity=".66"/>
<rect x="508.43" y="305.1" width="4.50" height="8.8" fill="#f23645"/>
<rect x="516.12" y="313.4" width="1.1" height="12.6" fill="#089981" opacity=".66"/>
<rect x="514.42" y="313.4" width="4.50" height="4.2" fill="#089981"/>
<rect x="522.12" y="305.1" width="1.1" height="19.7" fill="#089981" opacity=".66"/>
<rect x="520.42" y="313.4" width="4.50" height="2.1" fill="#089981"/>
<rect x="528.12" y="306.4" width="1.1" height="13.4" fill="#089981" opacity=".66"/>
<rect x="526.42" y="310.6" width="4.50" height="3.2" fill="#089981"/>
<rect x="534.11" y="300.1" width="1.1" height="12.5" fill="#089981" opacity=".66"/>
<rect x="532.41" y="308.8" width="4.50" height="1.8" fill="#089981"/>
<rect x="540.11" y="294.7" width="1.1" height="63.1" fill="#f23645" opacity=".66"/>
<rect x="538.41" y="308.8" width="4.50" height="46.7" fill="#f23645"/>
<rect x="546.10" y="361.8" width="1.1" height="35.1" fill="#f23645" opacity=".66"/>
<rect x="544.40" y="369.8" width="4.50" height="11.2" fill="#f23645"/>
<rect x="552.10" y="369.8" width="1.1" height="48.0" fill="#f23645" opacity=".66"/>
<rect x="550.39" y="382.2" width="4.50" height="34.4" fill="#f23645"/>
<rect x="558.09" y="385.2" width="1.1" height="31.8" fill="#089981" opacity=".66"/>
<rect x="556.39" y="395.6" width="4.50" height="20.0" fill="#089981"/>
<rect x="564.09" y="393.2" width="1.1" height="15.4" fill="#f23645" opacity=".66"/>
<rect x="562.38" y="395.6" width="4.50" height="5.5" fill="#f23645"/>
<rect x="570.08" y="371.5" width="1.1" height="33.4" fill="#089981" opacity=".66"/>
<rect x="568.38" y="371.5" width="4.50" height="31.6" fill="#089981"/>
<rect x="576.08" y="353.9" width="1.1" height="21.3" fill="#089981" opacity=".66"/>
<rect x="574.38" y="357.1" width="4.50" height="12.7" fill="#089981"/>
<rect x="582.07" y="352.6" width="1.1" height="7.5" fill="#089981" opacity=".66"/>
<rect x="580.37" y="353.9" width="4.50" height="2.9" fill="#089981"/>
<rect x="588.07" y="334.2" width="1.1" height="21.7" fill="#089981" opacity=".66"/>
<rect x="586.37" y="335.3" width="4.50" height="19.2" fill="#089981"/>
<rect x="594.06" y="327.0" width="1.1" height="14.0" fill="#089981" opacity=".66"/>
<rect x="592.36" y="333.1" width="4.50" height="3.5" fill="#089981"/>
<rect x="600.06" y="328.1" width="1.1" height="11.2" fill="#089981" opacity=".66"/>
<rect x="598.36" y="329.0" width="4.50" height="4.1" fill="#089981"/>
<rect x="606.05" y="321.4" width="1.1" height="36.9" fill="#f23645" opacity=".66"/>
<rect x="604.35" y="323.9" width="4.50" height="28.1" fill="#f23645"/>
<rect x="612.05" y="346.3" width="1.1" height="37.2" fill="#f23645" opacity=".66"/>
<rect x="610.35" y="352.9" width="4.50" height="25.9" fill="#f23645"/>
<rect x="618.04" y="373.8" width="1.1" height="36.1" fill="#f23645" opacity=".66"/>
<rect x="616.34" y="378.2" width="4.50" height="19.5" fill="#f23645"/>
<rect x="624.04" y="389.4" width="1.1" height="25.0" fill="#f23645" opacity=".66"/>
<rect x="622.34" y="399.9" width="4.50" height="7.4" fill="#f23645"/>
<rect x="630.03" y="391.0" width="1.1" height="18.4" fill="#f23645" opacity=".66"/>
<rect x="628.33" y="406.6" width="4.50" height="1.5" fill="#f23645"/>
<rect x="636.03" y="391.9" width="1.1" height="16.7" fill="#089981" opacity=".66"/>
<rect x="634.33" y="393.2" width="4.50" height="14.6" fill="#089981"/>
<rect x="642.02" y="386.0" width="1.1" height="21.8" fill="#f23645" opacity=".66"/>
<rect x="640.32" y="394.4" width="4.50" height="3.3" fill="#f23645"/>
<rect x="648.02" y="370.1" width="1.1" height="31.0" fill="#089981" opacity=".66"/>
<rect x="646.32" y="371.0" width="4.50" height="27.6" fill="#089981"/>
<rect x="654.01" y="361.8" width="1.1" height="10.8" fill="#089981" opacity=".66"/>
<rect x="652.31" y="367.6" width="4.50" height="4.2" fill="#089981"/>
<rect x="660.01" y="356.3" width="1.1" height="17.5" fill="#089981" opacity=".66"/>
<rect x="658.31" y="366.8" width="4.50" height="1.7" fill="#089981"/>
<rect x="666.00" y="368.1" width="1.1" height="14.6" fill="#f23645" opacity=".66"/>
<rect x="664.30" y="369.3" width="4.50" height="4.5" fill="#f23645"/>
<rect x="672.00" y="345.4" width="1.1" height="30.6" fill="#089981" opacity=".66"/>
<rect x="670.30" y="351.7" width="4.50" height="22.1" fill="#089981"/>
<rect x="677.99" y="336.4" width="1.1" height="25.4" fill="#089981" opacity=".66"/>
<rect x="676.29" y="344.2" width="4.50" height="8.4" fill="#089981"/>
<rect x="683.99" y="343.4" width="1.1" height="12.5" fill="#f23645" opacity=".66"/>
<rect x="682.29" y="344.7" width="4.50" height="3.4" fill="#f23645"/>
<rect x="689.98" y="346.7" width="1.1" height="12.6" fill="#f23645" opacity=".66"/>
<rect x="688.28" y="348.1" width="4.50" height="1.5" fill="#f23645"/>
<rect x="695.98" y="319.8" width="1.1" height="28.2" fill="#089981" opacity=".66"/>
<rect x="694.28" y="326.8" width="4.50" height="21.2" fill="#089981"/>
<rect x="701.97" y="316.8" width="1.1" height="13.8" fill="#089981" opacity=".66"/>
<rect x="700.27" y="317.6" width="4.50" height="8.4" fill="#089981"/>
</g>
<text x="986.90" y="80.20" font-size="7.50" fill="#c4c4c4" font-weight="400" textLength="26.30" lengthAdjust="spacingAndGlyphs" xml:space="preserve" stroke="#c4c4c4" stroke-width="0.25">154.000</text>
<text x="986.90" y="100.20" font-size="7.50" fill="#c4c4c4" font-weight="400" textLength="26.30" lengthAdjust="spacingAndGlyphs" xml:space="preserve" stroke="#c4c4c4" stroke-width="0.25">152.000</text>
<text x="986.90" y="120.20" font-size="7.50" fill="#c4c4c4" font-weight="400" textLength="26.30" lengthAdjust="spacingAndGlyphs" xml:space="preserve" stroke="#c4c4c4" stroke-width="0.25">150.000</text>
<text x="986.90" y="140.20" font-size="7.50" fill="#c4c4c4" font-weight="400" textLength="26.30" lengthAdjust="spacingAndGlyphs" xml:space="preserve" stroke="#c4c4c4" stroke-width="0.25">148.000</text>
<text x="986.90" y="160.20" font-size="7.50" fill="#c4c4c4" font-weight="400" textLength="26.30" lengthAdjust="spacingAndGlyphs" xml:space="preserve" stroke="#c4c4c4" stroke-width="0.25">146.000</text>
<text x="986.90" y="180.20" font-size="7.50" fill="#c4c4c4" font-weight="400" textLength="26.30" lengthAdjust="spacingAndGlyphs" xml:space="preserve" stroke="#c4c4c4" stroke-width="0.25">144.000</text>
<text x="986.90" y="200.20" font-size="7.50" fill="#c4c4c4" font-weight="400" textLength="26.30" lengthAdjust="spacingAndGlyphs" xml:space="preserve" stroke="#c4c4c4" stroke-width="0.25">142.000</text>
<text x="986.90" y="220.20" font-size="7.50" fill="#c4c4c4" font-weight="400" textLength="26.30" lengthAdjust="spacingAndGlyphs" xml:space="preserve" stroke="#c4c4c4" stroke-width="0.25">140.000</text>
<text x="986.90" y="240.20" font-size="7.50" fill="#c4c4c4" font-weight="400" textLength="26.30" lengthAdjust="spacingAndGlyphs" xml:space="preserve" stroke="#c4c4c4" stroke-width="0.25">138.000</text>
<text x="984.90" y="387.70" font-size="7.50" fill="#c4c4c4" font-weight="400" textLength="26.30" lengthAdjust="spacingAndGlyphs" xml:space="preserve" stroke="#c4c4c4" stroke-width="0.25">154.000</text>
<text x="984.90" y="422.35" font-size="7.50" fill="#c4c4c4" font-weight="400" textLength="26.30" lengthAdjust="spacingAndGlyphs" xml:space="preserve" stroke="#c4c4c4" stroke-width="0.25">152.000</text>
<text x="984.90" y="457.00" font-size="7.50" fill="#c4c4c4" font-weight="400" textLength="26.30" lengthAdjust="spacingAndGlyphs" xml:space="preserve" stroke="#c4c4c4" stroke-width="0.25">150.000</text>
<text x="984.90" y="491.65" font-size="7.50" fill="#c4c4c4" font-weight="400" textLength="26.30" lengthAdjust="spacingAndGlyphs" xml:space="preserve" stroke="#c4c4c4" stroke-width="0.25">148.000</text>
<text x="984.90" y="526.30" font-size="7.50" fill="#c4c4c4" font-weight="400" textLength="26.30" lengthAdjust="spacingAndGlyphs" xml:space="preserve" stroke="#c4c4c4" stroke-width="0.25">146.000</text>
<text x="58.46" y="254.00" font-size="7.70" fill="#c4c4c4" font-weight="400" textLength="8.14" lengthAdjust="spacingAndGlyphs" xml:space="preserve" stroke="#c4c4c4" stroke-width="0.25">10</text>
<text class="cj" x="66.60" y="254.00" font-size="7.5" fill="#c4c4c4">月</text>
<text x="93.46" y="254.00" font-size="7.70" fill="#c4c4c4" font-weight="400" textLength="8.14" lengthAdjust="spacingAndGlyphs" xml:space="preserve" stroke="#c4c4c4" stroke-width="0.25">11</text>
<text class="cj" x="101.60" y="254.00" font-size="7.5" fill="#c4c4c4">月</text>
<text x="128.96" y="254.00" font-size="7.70" fill="#c4c4c4" font-weight="400" textLength="8.14" lengthAdjust="spacingAndGlyphs" xml:space="preserve" stroke="#c4c4c4" stroke-width="0.25">12</text>
<text class="cj" x="137.10" y="254.00" font-size="7.5" fill="#c4c4c4">月</text>
<text x="172.76" y="254.00" font-size="7.70" fill="#c4c4c4" font-weight="700" textLength="16.27" lengthAdjust="spacingAndGlyphs" xml:space="preserve" stroke="#c4c4c4" stroke-width="0.25">2025</text>
<text x="209.49" y="254.00" font-size="7.70" fill="#c4c4c4" font-weight="400" textLength="4.07" lengthAdjust="spacingAndGlyphs" xml:space="preserve" stroke="#c4c4c4" stroke-width="0.25">2</text>
<text class="cj" x="213.56" y="254.00" font-size="7.5" fill="#c4c4c4">月</text>
<text x="245.19" y="254.00" font-size="7.70" fill="#c4c4c4" font-weight="400" textLength="4.07" lengthAdjust="spacingAndGlyphs" xml:space="preserve" stroke="#c4c4c4" stroke-width="0.25">3</text>
<text class="cj" x="249.26" y="254.00" font-size="7.5" fill="#c4c4c4">月</text>
<text x="289.19" y="254.00" font-size="7.70" fill="#c4c4c4" font-weight="400" textLength="4.07" lengthAdjust="spacingAndGlyphs" xml:space="preserve" stroke="#c4c4c4" stroke-width="0.25">4</text>
<text class="cj" x="293.26" y="254.00" font-size="7.5" fill="#c4c4c4">月</text>
<text x="324.39" y="254.00" font-size="7.70" fill="#c4c4c4" font-weight="400" textLength="4.07" lengthAdjust="spacingAndGlyphs" xml:space="preserve" stroke="#c4c4c4" stroke-width="0.25">5</text>
<text class="cj" x="328.46" y="254.00" font-size="7.5" fill="#c4c4c4">月</text>
<text x="359.39" y="254.00" font-size="7.70" fill="#c4c4c4" font-weight="400" textLength="4.07" lengthAdjust="spacingAndGlyphs" xml:space="preserve" stroke="#c4c4c4" stroke-width="0.25">6</text>
<text class="cj" x="363.46" y="254.00" font-size="7.5" fill="#c4c4c4">月</text>
<text x="403.19" y="254.00" font-size="7.70" fill="#c4c4c4" font-weight="400" textLength="4.07" lengthAdjust="spacingAndGlyphs" xml:space="preserve" stroke="#c4c4c4" stroke-width="0.25">7</text>
<text class="cj" x="407.26" y="254.00" font-size="7.5" fill="#c4c4c4">月</text>
<text x="438.39" y="254.00" font-size="7.70" fill="#c4c4c4" font-weight="400" textLength="4.07" lengthAdjust="spacingAndGlyphs" xml:space="preserve" stroke="#c4c4c4" stroke-width="0.25">8</text>
<text class="cj" x="442.46" y="254.00" font-size="7.5" fill="#c4c4c4">月</text>
<text x="473.79" y="254.00" font-size="7.70" fill="#c4c4c4" font-weight="400" textLength="4.07" lengthAdjust="spacingAndGlyphs" xml:space="preserve" stroke="#c4c4c4" stroke-width="0.25">9</text>
<text class="cj" x="477.86" y="254.00" font-size="7.5" fill="#c4c4c4">月</text>
<text x="515.66" y="254.00" font-size="7.70" fill="#c4c4c4" font-weight="400" textLength="8.14" lengthAdjust="spacingAndGlyphs" xml:space="preserve" stroke="#c4c4c4" stroke-width="0.25">10</text>
<text class="cj" x="523.80" y="254.00" font-size="7.5" fill="#c4c4c4">月</text>
<text x="550.96" y="254.00" font-size="7.70" fill="#c4c4c4" font-weight="400" textLength="8.14" lengthAdjust="spacingAndGlyphs" xml:space="preserve" stroke="#c4c4c4" stroke-width="0.25">11</text>
<text class="cj" x="559.10" y="254.00" font-size="7.5" fill="#c4c4c4">月</text>
<text x="585.76" y="254.00" font-size="7.70" fill="#c4c4c4" font-weight="400" textLength="8.14" lengthAdjust="spacingAndGlyphs" xml:space="preserve" stroke="#c4c4c4" stroke-width="0.25">12</text>
<text class="cj" x="593.90" y="254.00" font-size="7.5" fill="#c4c4c4">月</text>
<text x="629.76" y="254.00" font-size="7.70" fill="#c4c4c4" font-weight="700" textLength="16.27" lengthAdjust="spacingAndGlyphs" xml:space="preserve" stroke="#c4c4c4" stroke-width="0.25">2026</text>
<text x="666.99" y="254.00" font-size="7.70" fill="#c4c4c4" font-weight="400" textLength="4.07" lengthAdjust="spacingAndGlyphs" xml:space="preserve" stroke="#c4c4c4" stroke-width="0.25">2</text>
<text class="cj" x="671.06" y="254.00" font-size="7.5" fill="#c4c4c4">月</text>
<text x="702.29" y="254.00" font-size="7.70" fill="#c4c4c4" font-weight="400" textLength="4.07" lengthAdjust="spacingAndGlyphs" xml:space="preserve" stroke="#c4c4c4" stroke-width="0.25">3</text>
<text class="cj" x="706.36" y="254.00" font-size="7.5" fill="#c4c4c4">月</text>
<text x="746.09" y="254.00" font-size="7.70" fill="#c4c4c4" font-weight="400" textLength="4.07" lengthAdjust="spacingAndGlyphs" xml:space="preserve" stroke="#c4c4c4" stroke-width="0.25">4</text>
<text class="cj" x="750.16" y="254.00" font-size="7.5" fill="#c4c4c4">月</text>
<text x="780.99" y="254.00" font-size="7.70" fill="#c4c4c4" font-weight="400" textLength="4.07" lengthAdjust="spacingAndGlyphs" xml:space="preserve" stroke="#c4c4c4" stroke-width="0.25">5</text>
<text class="cj" x="785.06" y="254.00" font-size="7.5" fill="#c4c4c4">月</text>
<text x="816.09" y="254.00" font-size="7.70" fill="#c4c4c4" font-weight="400" textLength="4.07" lengthAdjust="spacingAndGlyphs" xml:space="preserve" stroke="#c4c4c4" stroke-width="0.25">6</text>
<text class="cj" x="820.16" y="254.00" font-size="7.5" fill="#c4c4c4">月</text>
<text x="859.89" y="254.00" font-size="7.70" fill="#c4c4c4" font-weight="400" textLength="4.07" lengthAdjust="spacingAndGlyphs" xml:space="preserve" stroke="#c4c4c4" stroke-width="0.25">7</text>
<text class="cj" x="863.96" y="254.00" font-size="7.5" fill="#c4c4c4">月</text>
<text x="894.99" y="254.00" font-size="7.70" fill="#c4c4c4" font-weight="400" textLength="4.07" lengthAdjust="spacingAndGlyphs" xml:space="preserve" stroke="#c4c4c4" stroke-width="0.25">8</text>
<text class="cj" x="899.06" y="254.00" font-size="7.5" fill="#c4c4c4">月</text>
<text x="939.19" y="254.00" font-size="7.70" fill="#c4c4c4" font-weight="400" textLength="4.07" lengthAdjust="spacingAndGlyphs" xml:space="preserve" stroke="#c4c4c4" stroke-width="0.25">9</text>
<text class="cj" x="943.26" y="254.00" font-size="7.5" fill="#c4c4c4">月</text>
<text x="972.73" y="254.00" font-size="7.70" fill="#c4c4c4" font-weight="400" textLength="8.14" lengthAdjust="spacingAndGlyphs" xml:space="preserve" stroke="#c4c4c4" stroke-width="0.25">10</text>
<text x="53.16" y="568.90" font-size="7.70" fill="#c4c4c4" font-weight="400" textLength="8.14" lengthAdjust="spacingAndGlyphs" xml:space="preserve" stroke="#c4c4c4" stroke-width="0.25">10</text>
<text class="cj" x="61.30" y="568.90" font-size="7.5" fill="#c4c4c4">月</text>
<text x="191.46" y="568.90" font-size="7.70" fill="#c4c4c4" font-weight="400" textLength="8.14" lengthAdjust="spacingAndGlyphs" xml:space="preserve" stroke="#c4c4c4" stroke-width="0.25">11</text>
<text class="cj" x="199.60" y="568.90" font-size="7.5" fill="#c4c4c4">月</text>
<text x="310.96" y="568.90" font-size="7.70" fill="#c4c4c4" font-weight="400" textLength="8.14" lengthAdjust="spacingAndGlyphs" xml:space="preserve" stroke="#c4c4c4" stroke-width="0.25">12</text>
<text class="cj" x="319.10" y="568.90" font-size="7.5" fill="#c4c4c4">月</text>
<text x="442.46" y="568.90" font-size="7.70" fill="#c4c4c4" font-weight="700" textLength="16.27" lengthAdjust="spacingAndGlyphs" xml:space="preserve" stroke="#c4c4c4" stroke-width="0.25">2026</text>
<text x="569.89" y="568.90" font-size="7.70" fill="#c4c4c4" font-weight="400" textLength="4.07" lengthAdjust="spacingAndGlyphs" xml:space="preserve" stroke="#c4c4c4" stroke-width="0.25">2</text>
<text class="cj" x="573.96" y="568.90" font-size="7.5" fill="#c4c4c4">月</text>
<text x="690.09" y="568.90" font-size="7.70" fill="#c4c4c4" font-weight="400" textLength="4.07" lengthAdjust="spacingAndGlyphs" xml:space="preserve" stroke="#c4c4c4" stroke-width="0.25">3</text>
<text class="cj" x="694.16" y="568.90" font-size="7.5" fill="#c4c4c4">月</text>
<text x="821.89" y="568.90" font-size="7.70" fill="#c4c4c4" font-weight="400" textLength="4.07" lengthAdjust="spacingAndGlyphs" xml:space="preserve" stroke="#c4c4c4" stroke-width="0.25">4</text>
<text class="cj" x="825.96" y="568.90" font-size="7.5" fill="#c4c4c4">月</text>
<text x="953.29" y="568.90" font-size="7.70" fill="#c4c4c4" font-weight="400" textLength="4.07" lengthAdjust="spacingAndGlyphs" xml:space="preserve" stroke="#c4c4c4" stroke-width="0.25">5</text>
<text class="cj" x="957.36" y="568.90" font-size="7.5" fill="#c4c4c4">月</text>
<path d="M1005.70 251.20 L1003.35 255.27 L998.65 255.27 L996.30 251.20 L998.65 247.13 L1003.35 247.13Z" fill="none" stroke="#cfcfcf" stroke-width="0.9"/>
<circle cx="1001" cy="251.2" r="1.7" fill="none" stroke="#cfcfcf" stroke-width="0.9"/>
<text class="cj" x="961.70" y="34.00" font-size="7.6" font-weight="500" fill="#e0e0e0">週足</text>
<text class="cj" x="959.50" y="314.30" font-size="7.6" font-weight="500" fill="#e0e0e0">週足</text>
<text class="cj" x="959.50" y="340.60" font-size="7.6" font-weight="500" fill="#e0e0e0">日足</text>
<text x="984.90" y="353.40" font-size="7.50" fill="#c4c4c4" font-weight="400" textLength="26.30" lengthAdjust="spacingAndGlyphs" xml:space="preserve" stroke="#c4c4c4" stroke-width="0.25">156.000</text>
<text x="986.90" y="60.20" font-size="7.50" fill="#c4c4c4" font-weight="400" textLength="26.30" lengthAdjust="spacingAndGlyphs" xml:space="preserve" stroke="#c4c4c4" stroke-width="0.25">156.000</text>
<text x="984.90" y="283.90" font-size="7.50" fill="#6a6a6a" font-weight="400" textLength="26.30" lengthAdjust="spacingAndGlyphs" xml:space="preserve" stroke="#6a6a6a" stroke-width="0.25">160.000</text>
<rect x="981.8" y="32.1" width="35.4" height="20.1" rx="1" fill="#ffffff"/>
<text x="986.70" y="40.10" font-size="7.50" fill="#15171c" font-weight="400" textLength="26.30" lengthAdjust="spacingAndGlyphs" xml:space="preserve" stroke="#15171c" stroke-width="0.25">157.908</text>
<text x="986.70" y="49.30" font-size="7.50" fill="#5a5a5a" font-weight="400" textLength="18.21" lengthAdjust="spacingAndGlyphs" xml:space="preserve" stroke="#5a5a5a" stroke-width="0.25">3d 8h</text>
<rect x="981.8" y="52.2" width="35.4" height="10.4" fill="#2962ff"/>
<text x="986.70" y="59.90" font-size="7.50" fill="#ffffff" font-weight="400" textLength="26.30" lengthAdjust="spacingAndGlyphs" xml:space="preserve" stroke="#ffffff" stroke-width="0.25">157.893</text>
<rect x="979.3" y="312.1" width="37.7" height="19.7" rx="1" fill="#ffffff"/>
<text x="985.00" y="320.20" font-size="7.50" fill="#15171c" font-weight="400" textLength="26.30" lengthAdjust="spacingAndGlyphs" xml:space="preserve" stroke="#15171c" stroke-width="0.25">157.908</text>
<text x="985.00" y="329.00" font-size="7.50" fill="#5a5a5a" font-weight="400" textLength="27.15" lengthAdjust="spacingAndGlyphs" xml:space="preserve" stroke="#5a5a5a" stroke-width="0.25">07:16:34</text>
<rect x="979.3" y="331.8" width="35.7" height="10.9" fill="#2962ff"/>
<text x="985.00" y="339.70" font-size="7.50" fill="#ffffff" font-weight="400" textLength="26.30" lengthAdjust="spacingAndGlyphs" xml:space="preserve" stroke="#ffffff" stroke-width="0.25">157.893</text>
<rect x="979.3" y="342.7" width="35.7" height="10.1" fill="#fde23a"/>
<text x="985.00" y="350.70" font-size="7.50" fill="#15171c" font-weight="400" textLength="26.30" lengthAdjust="spacingAndGlyphs" xml:space="preserve" stroke="#15171c" stroke-width="0.25">156.359</text>
<rect x="984.0" y="0.2" width="33.8" height="16.0" rx="2.2" fill="#131313" stroke="#303030" stroke-width="1"/>
<text x="986.80" y="11.00" font-size="7.90" fill="#dcdcdc" font-weight="400" textLength="11.60" lengthAdjust="spacingAndGlyphs" xml:space="preserve" stroke="#dcdcdc" stroke-width="0.25">JPY</text>
<path d="M1011.2 7.5 l1.85 1.7 l1.85 -1.7" fill="none" stroke="#dcdcdc" stroke-width="1.15"/>
<line x1="988" y1="19.2" x2="1013" y2="19.2" stroke="#3a3a3a" stroke-width="0.9" stroke-dasharray="1.4 2.2"/>
<rect x="981.4" y="263.5" width="36.3" height="16.4" rx="2.2" fill="#131313" stroke="#303030" stroke-width="1"/>
<text x="984.20" y="274.50" font-size="7.90" fill="#dcdcdc" font-weight="400" textLength="11.60" lengthAdjust="spacingAndGlyphs" xml:space="preserve" stroke="#dcdcdc" stroke-width="0.25">JPY</text>
<path d="M1011.1 271.0 l1.85 1.7 l1.85 -1.7" fill="none" stroke="#dcdcdc" stroke-width="1.15"/>
<circle cx="15.70" cy="5.60" r="3.30" fill="#f6f6f6"/>
<circle cx="15.70" cy="5.60" r="1.48" fill="#f23645"/>
<circle cx="11.3" cy="9.80" r="4.3" fill="#030207"/>
<clipPath id="cu113_98"><circle cx="11.30" cy="9.80" r="3.60"/></clipPath>
<g clip-path="url(#cu113_98)">
<rect x="7.70" y="6.20" width="7.20" height="7.20" fill="#f4f4f6"/>
<rect x="7.70" y="6.20" width="7.20" height="1.44" fill="#e8453c"/>
<rect x="7.70" y="9.08" width="7.20" height="1.44" fill="#e8453c"/>
<rect x="7.70" y="11.96" width="7.20" height="1.44" fill="#e8453c"/>
<rect x="7.70" y="6.20" width="3.60" height="4.14" fill="#4488e4"/>
</g>
<text x="21.70" y="11.90" font-size="10.40" fill="#e2e2e2" font-weight="400" textLength="32.80" lengthAdjust="spacingAndGlyphs" xml:space="preserve" stroke="#e2e2e2" stroke-width="0.25">USDJPY</text>
<circle cx="59.5" cy="8.40" r="0.9" fill="#e2e2e2"/>
<text class="cj" x="62.88" y="12.40" font-size="10.15" fill="#e2e2e2">米ドル／円</text>
<circle cx="117.2" cy="8.40" r="0.9" fill="#e2e2e2"/>
<text x="121.60" y="11.90" font-size="10.40" fill="#e2e2e2" font-weight="400" textLength="4.51" lengthAdjust="spacingAndGlyphs" xml:space="preserve" stroke="#e2e2e2" stroke-width="0.25">1</text>
<text class="cj" x="125.97" y="12.40" font-size="10.2" fill="#e2e2e2">週</text>
<circle cx="139.7" cy="8.40" r="0.9" fill="#e2e2e2"/>
<text x="144.20" y="11.90" font-size="10.40" fill="#e2e2e2" font-weight="400" textLength="31.40" lengthAdjust="spacingAndGlyphs" xml:space="preserve" stroke="#e2e2e2" stroke-width="0.25">OANDA</text>
<circle cx="186" cy="8.00" r="5.3" fill="#0b3b33"/>
<circle cx="186" cy="8.00" r="2.5" fill="#0aa387"/>
<text x="197.70" y="11.40" font-size="8.90" fill="#0a9a82" font-weight="400" textLength="57.60" lengthAdjust="spacingAndGlyphs" xml:space="preserve" stroke="#0a9a82" stroke-width="0.25">+0.548 (+0.35%)</text>
<text x="7.80" y="26.70" font-size="9.10" fill="#e6e6e6" font-weight="700" textLength="14.30" lengthAdjust="spacingAndGlyphs" xml:space="preserve" stroke="#e6e6e6" stroke-width="0.25">SMA</text>
<text x="24.40" y="26.70" font-size="9.10" fill="#b4b4b4" font-weight="400" textLength="29.20" lengthAdjust="spacingAndGlyphs" xml:space="preserve" stroke="#b4b4b4" stroke-width="0.25">20 close</text>
<text x="59.90" y="26.70" font-size="9.10" fill="#2c5cf0" font-weight="400" textLength="27.80" lengthAdjust="spacingAndGlyphs" xml:space="preserve" stroke="#2c5cf0" stroke-width="0.25">155.765</text>
<circle cx="15.70" cy="268.90" r="3.30" fill="#f6f6f6"/>
<circle cx="15.70" cy="268.90" r="1.48" fill="#f23645"/>
<circle cx="11.3" cy="273.10" r="4.3" fill="#030207"/>
<clipPath id="cu113_2731"><circle cx="11.30" cy="273.10" r="3.60"/></clipPath>
<g clip-path="url(#cu113_2731)">
<rect x="7.70" y="269.50" width="7.20" height="7.20" fill="#f4f4f6"/>
<rect x="7.70" y="269.50" width="7.20" height="1.44" fill="#e8453c"/>
<rect x="7.70" y="272.38" width="7.20" height="1.44" fill="#e8453c"/>
<rect x="7.70" y="275.26" width="7.20" height="1.44" fill="#e8453c"/>
<rect x="7.70" y="269.50" width="3.60" height="4.14" fill="#4488e4"/>
</g>
<text x="21.70" y="275.20" font-size="10.40" fill="#e2e2e2" font-weight="400" textLength="32.80" lengthAdjust="spacingAndGlyphs" xml:space="preserve" stroke="#e2e2e2" stroke-width="0.25">USDJPY</text>
<circle cx="59.5" cy="271.70" r="0.9" fill="#e2e2e2"/>
<text class="cj" x="62.88" y="275.70" font-size="10.15" fill="#e2e2e2">米ドル／円</text>
<circle cx="117.2" cy="271.70" r="0.9" fill="#e2e2e2"/>
<text x="121.60" y="275.20" font-size="10.40" fill="#e2e2e2" font-weight="400" textLength="4.51" lengthAdjust="spacingAndGlyphs" xml:space="preserve" stroke="#e2e2e2" stroke-width="0.25">1</text>
<text class="cj" x="125.97" y="275.70" font-size="10.2" fill="#e2e2e2">日</text>
<circle cx="139.7" cy="271.70" r="0.9" fill="#e2e2e2"/>
<text x="144.20" y="275.20" font-size="10.40" fill="#e2e2e2" font-weight="400" textLength="31.40" lengthAdjust="spacingAndGlyphs" xml:space="preserve" stroke="#e2e2e2" stroke-width="0.25">OANDA</text>
<circle cx="186" cy="271.30" r="5.3" fill="#0b3b33"/>
<circle cx="186" cy="271.30" r="2.5" fill="#0aa387"/>
<text x="197.70" y="274.70" font-size="8.90" fill="#0a9a82" font-weight="400" textLength="57.60" lengthAdjust="spacingAndGlyphs" xml:space="preserve" stroke="#0a9a82" stroke-width="0.25">+0.547 (+0.35%)</text>
<text x="7.80" y="290.00" font-size="9.10" fill="#e6e6e6" font-weight="700" textLength="14.30" lengthAdjust="spacingAndGlyphs" xml:space="preserve" stroke="#e6e6e6" stroke-width="0.25">SMA</text>
<text x="24.40" y="290.00" font-size="9.10" fill="#b4b4b4" font-weight="400" textLength="29.20" lengthAdjust="spacingAndGlyphs" xml:space="preserve" stroke="#b4b4b4" stroke-width="0.25">20 close</text>
<text x="59.90" y="290.00" font-size="9.10" fill="#2c5cf0" font-weight="400" textLength="27.80" lengthAdjust="spacingAndGlyphs" xml:space="preserve" stroke="#2c5cf0" stroke-width="0.25">155.314</text>
<text x="7.80" y="41.60" font-size="9.10" fill="#5c5c5c" font-weight="400" textLength="66.10" lengthAdjust="spacingAndGlyphs" xml:space="preserve" stroke="#5c5c5c" stroke-width="0.25">MA Cross Count 20</text>
<path d="M80.2 38.6 Q85.2 32.2 90.2 38.6 Q85.2 45 80.2 38.6Z" fill="none" stroke="#a0a0a0" stroke-width="1"/><circle cx="85.2" cy="38.6" r="1.8" fill="none" stroke="#a0a0a0" stroke-width="1"/><path d="M81.4 42.4 L89 34.8" stroke="#a0a0a0" stroke-width="1"/>
<text x="7.80" y="305.60" font-size="9.10" fill="#e0e0e0" font-weight="400" textLength="55.00" lengthAdjust="spacingAndGlyphs" xml:space="preserve" stroke="#e0e0e0" stroke-width="0.25">MA Cross Count</text>
<text x="65.60" y="305.60" font-size="9.10" fill="#b4b4b4" font-weight="400" textLength="8.60" lengthAdjust="spacingAndGlyphs" xml:space="preserve" stroke="#b4b4b4" stroke-width="0.25">20</text>
<circle cx="82.9" cy="302.9" r="2.9" fill="none" stroke="#d6d6d6" stroke-width="1"/><path d="M80.5 305.4 L85.3 300.4" stroke="#d6d6d6" stroke-width="1"/>
<text x="91.60" y="305.60" font-size="9.10" fill="#2c5cf0" font-weight="400" textLength="28.20" lengthAdjust="spacingAndGlyphs" xml:space="preserve" stroke="#2c5cf0" stroke-width="0.25">155.314</text>
<rect x="7.6" y="48.3" width="18.4" height="12.8" rx="1.5" fill="none" stroke="#3c3c3c" stroke-width="1"/>
<path d="M14.4 56 l2.4 -2.4 l2.4 2.4" fill="none" stroke="#e0e0e0" stroke-width="1.1"/>
<circle cx="708.00" cy="202.40" r="6.4" fill="#150a1a" stroke="#a338c4" stroke-width="1"/>
<path d="M709.20 198.40 l-3.6 4.4 h2.6 l-1.4 3.8 l4.6 -5.2 h-2.9 z" fill="#c055e6"/>
<circle cx="712.5" cy="198.2" r="1.7" fill="#f23645"/>
<circle cx="708.00" cy="218.00" r="5.10" fill="#f6f6f6"/>
<circle cx="708.00" cy="218.00" r="2.29" fill="#f23645"/>
<circle cx="708.00" cy="218.00" r="6.30" fill="none" stroke="#e02a3a" stroke-width="1.25"/>
<clipPath id="cu7080_2339"><circle cx="708.00" cy="233.90" r="5.10"/></clipPath>
<g clip-path="url(#cu7080_2339)">
<rect x="702.90" y="228.80" width="10.20" height="10.20" fill="#f4f4f6"/>
<rect x="702.90" y="228.80" width="10.20" height="2.04" fill="#e8453c"/>
<rect x="702.90" y="232.88" width="10.20" height="2.04" fill="#e8453c"/>
<rect x="702.90" y="236.96" width="10.20" height="2.04" fill="#e8453c"/>
<rect x="702.90" y="228.80" width="5.10" height="5.86" fill="#4488e4"/>
</g>
<circle cx="708.00" cy="233.90" r="6.30" fill="none" stroke="#e02a3a" stroke-width="1.25"/>
<clipPath id="cu7431_2339"><circle cx="743.10" cy="233.90" r="5.10"/></clipPath>
<g clip-path="url(#cu7431_2339)">
<rect x="738.00" y="228.80" width="10.20" height="10.20" fill="#f4f4f6"/>
<rect x="738.00" y="228.80" width="10.20" height="2.04" fill="#e8453c"/>
<rect x="738.00" y="232.88" width="10.20" height="2.04" fill="#e8453c"/>
<rect x="738.00" y="236.96" width="10.20" height="2.04" fill="#e8453c"/>
<rect x="738.00" y="228.80" width="5.10" height="5.86" fill="#4488e4"/>
</g>
<circle cx="743.10" cy="233.90" r="6.30" fill="none" stroke="#e02a3a" stroke-width="1.25"/>
<circle cx="707.90" cy="532.70" r="5.10" fill="#f6f6f6"/>
<circle cx="707.90" cy="532.70" r="2.29" fill="#f23645"/>
<circle cx="707.90" cy="532.70" r="6.30" fill="none" stroke="#e02a3a" stroke-width="1.25"/>
<circle cx="701.3" cy="548.8" r="6.2" fill="#150a1a" stroke="#a338c4" stroke-width="1.1"/>
<circle cx="707.9" cy="548.8" r="6.9" fill="#030207"/>
<clipPath id="cu7079_5488"><circle cx="707.90" cy="548.80" r="5.10"/></clipPath>
<g clip-path="url(#cu7079_5488)">
<rect x="702.80" y="543.70" width="10.20" height="10.20" fill="#f4f4f6"/>
<rect x="702.80" y="543.70" width="10.20" height="2.04" fill="#e8453c"/>
<rect x="702.80" y="547.78" width="10.20" height="2.04" fill="#e8453c"/>
<rect x="702.80" y="551.86" width="10.20" height="2.04" fill="#e8453c"/>
<rect x="702.80" y="543.70" width="5.10" height="5.86" fill="#4488e4"/>
</g>
<circle cx="707.90" cy="548.80" r="6.30" fill="none" stroke="#e02a3a" stroke-width="1.25"/>
<clipPath id="cu7201_5488"><circle cx="720.10" cy="548.80" r="5.10"/></clipPath>
<g clip-path="url(#cu7201_5488)">
<rect x="715.00" y="543.70" width="10.20" height="10.20" fill="#f4f4f6"/>
<rect x="715.00" y="543.70" width="10.20" height="2.04" fill="#e8453c"/>
<rect x="715.00" y="547.78" width="10.20" height="2.04" fill="#e8453c"/>
<rect x="715.00" y="551.86" width="10.20" height="2.04" fill="#e8453c"/>
<rect x="715.00" y="543.70" width="5.10" height="5.86" fill="#4488e4"/>
</g>
<circle cx="720.10" cy="548.80" r="6.30" fill="none" stroke="#e02a3a" stroke-width="1.25"/>
<clipPath id="cu8279_5488"><circle cx="827.90" cy="548.80" r="5.10"/></clipPath>
<g clip-path="url(#cu8279_5488)">
<rect x="822.80" y="543.70" width="10.20" height="10.20" fill="#f4f4f6"/>
<rect x="822.80" y="543.70" width="10.20" height="2.04" fill="#e8453c"/>
<rect x="822.80" y="547.78" width="10.20" height="2.04" fill="#e8453c"/>
<rect x="822.80" y="551.86" width="10.20" height="2.04" fill="#e8453c"/>
<rect x="822.80" y="543.70" width="5.10" height="5.86" fill="#4488e4"/>
</g>
<circle cx="827.90" cy="548.80" r="6.30" fill="none" stroke="#e02a3a" stroke-width="1.25"/>
<rect x="3.3" y="174" width="15.2" height="20" fill="#000"/>
<circle cx="14.6" cy="178.1" r="10.3" fill="#000"/>
<path d="M11.4 171.7 H17.9 L21.1 177.6 L16.7 186.7 H13.2 L8.8 177.6 Z" fill="#fff"/>
<circle cx="14.7" cy="177.1" r="2.05" fill="#000"/>
<rect x="14.1" y="177" width="1.2" height="9.8" fill="#000"/>
<rect x="4.0" y="193.6" width="21.3" height="268.4" fill="#ffffff" stroke="#c8c8c8" stroke-width="0.5"/>
<rect x="4.7" y="194.6" width="19.6" height="38.1" fill="#3dbcf0"/>
<path d="M6.9 203.8 Q14.6 195.4 22.3 203.8 Q14.6 212.2 6.9 203.8Z" fill="#fff" stroke="#1a1a1a" stroke-width="1.1"/>
<circle cx="14.6" cy="203.6" r="3.4" fill="#bbb" stroke="#1a1a1a" stroke-width="0.9"/><circle cx="14.6" cy="203.6" r="2.2" fill="#1a1a1a"/>
<path d="M8.4 217.4 L20.9 222.2 L15.9 224.2 L20.6 229 L18.6 230.9 L13.9 226.1 L12 230.6 Z" fill="#fff" stroke="#1a1a1a" stroke-width="1.1" stroke-linejoin="round"/>
<path d="M24.4 232.6 v-3.8 l-3.8 3.8z" fill="#111"/>
<path d="M24.4 251.8 v-3.8 l-3.8 3.8z" fill="#111"/>
<path d="M24.4 270.4 v-3.8 l-3.8 3.8z" fill="#111"/>
<path d="M24.4 289.4 v-3.8 l-3.8 3.8z" fill="#111"/>
<path d="M24.4 384.5 v-3.8 l-3.8 3.8z" fill="#111"/>
<circle cx="14.4" cy="244.2" r="4.9" fill="none" stroke="#1a1a1a" stroke-width="1.1"/><path d="M12.6 237.2 h3.6 M14.4 237.2 v1.8" stroke="#1a1a1a" stroke-width="1.1"/><path d="M8.3 248.6 L21 236.2" stroke="#1a1a1a" stroke-width="1.1"/>
<g transform="translate(14.7 262) rotate(40)" fill="none" stroke="#1a1a1a" stroke-width="1.1"><rect x="-5.6" y="-3.6" width="11.6" height="7.2"/><rect x="-2.6" y="-1.9" width="6.4" height="3.8"/><path d="M-5.6 -3.6 l-2.8 3.6 l2.8 3.6"/><path d="M-8.4 0 l1.6 -2 v4z" fill="#1a1a1a"/></g>
<g transform="translate(14.2 281.3) rotate(45)" fill="none" stroke="#1a1a1a" stroke-width="1.1"><rect x="-9" y="-0.9" width="18" height="1.8"/></g>
<circle cx="21.6" cy="274.7" r="2.3" fill="#ff1493"/>
<g transform="translate(14.6 298.6) rotate(38)" fill="#e9e9e9" stroke="#1a1a1a" stroke-width="1"><rect x="-6.4" y="-3.4" width="12.8" height="6.8" rx="1"/><path d="M-2.2 -3.4 v6.8 M-6 3.4 l0.8 1.5 h11.6 l0.6 -1.5" fill="none"/></g>
<circle cx="14.6" cy="318.1" r="1.5" fill="#000"/>
<path d="M8 335.6 L13.2 331.3 V334 H17 Q21.6 334.3 21.6 338.6 Q21.6 343 16.6 343 H15.2 V340.6 H16.6 Q19 340.4 19 338.6 Q19 336.9 17 336.8 H13.2 V339.8 Z" fill="#fff" stroke="#1a1a1a" stroke-width="1.1" stroke-linejoin="round"/>
<path d="M10.3 352.4 Q10.3 350.6 14.7 350.6 Q19.2 350.6 19.2 352.4 L19.6 353.4 H9.8 Z M12.6 350.6 v-0.9 h4.2 v0.9 M10.6 353.6 L11 360.6 Q11.2 361.9 12.4 361.9 H17 Q18.2 361.9 18.4 360.6 L18.9 353.6 M12.9 354.2 v7 M16.5 354.2 v7" fill="none" stroke="#1a1a1a" stroke-width="1.1"/>
<rect x="8.8" y="369.8" width="11.6" height="9.6" rx="1.6" fill="#e4e4e4" stroke="#1a1a1a" stroke-width="1.1"/><rect x="10.6" y="371.6" width="8" height="5.4" fill="#d0d0d0" stroke="#777" stroke-width="0.5"/><path d="M12 368.6 h5.2 v1.2 M11.6 379.4 l-0.6 2.2 M17.6 379.4 l0.6 2.2 M10.4 381.8 h2 M17 381.8 h2" fill="none" stroke="#1a1a1a" stroke-width="1.1"/>
<circle cx="21.6" cy="369.4" r="2.3" fill="#ff1493"/>
<rect x="8" y="390.4" width="13.6" height="9.6" rx="1" fill="#fff" stroke="#1a1a1a" stroke-width="1.1"/><path d="M11.4 390.4 l0.8 -1.8 h4.6 l0.8 1.8" fill="none" stroke="#1a1a1a" stroke-width="1.1"/><circle cx="13.6" cy="395.2" r="3.2" fill="#999" stroke="#1a1a1a" stroke-width="1.1"/><circle cx="13.6" cy="395.2" r="1.5" fill="#222"/><circle cx="19.3" cy="392.6" r="0.7" fill="none" stroke="#1a1a1a" stroke-width="0.5"/>
<rect x="9.4" y="407.4" width="11" height="11.8" rx="1.2" fill="#fff" stroke="#1a1a1a" stroke-width="1.1"/><path d="M12.2 407.4 q0 -1.2 1.4 -1.4 q1.2 -1.4 2.4 0 q1.4 0.2 1.4 1.4 M11.4 410.6 h7 M11.4 413 h7 M11.4 415.4 h7" fill="none" stroke="#1a1a1a" stroke-width="0.8"/>
<rect x="5.3" y="422.6" width="9.6" height="9.1" fill="#00aeef"/>
<rect x="14.9" y="422.6" width="9.4" height="9.1" fill="#fff200"/>
<rect x="5.3" y="431.7" width="19" height="28.7" fill="#ff0a8c"/>
<rect x="14.9" y="431.7" width="9.4" height="9.7" fill="#000"/>
<text x="11.00" y="591.20" font-size="9.30" fill="#d2d2d2" font-weight="400" textLength="4.65" lengthAdjust="spacingAndGlyphs" xml:space="preserve" stroke="#d2d2d2" stroke-width="0.25">1</text>
<text class="cj" x="15.73" y="591.20" font-size="7.6" font-weight="500" fill="#d2d2d2">日</text>
<text x="31.90" y="591.20" font-size="9.30" fill="#d2d2d2" font-weight="400" textLength="4.65" lengthAdjust="spacingAndGlyphs" xml:space="preserve" stroke="#d2d2d2" stroke-width="0.25">5</text>
<text class="cj" x="36.64" y="591.20" font-size="8.0" font-weight="500" fill="#d2d2d2">日</text>
<text x="53.00" y="591.20" font-size="9.30" fill="#d2d2d2" font-weight="400" textLength="4.65" lengthAdjust="spacingAndGlyphs" xml:space="preserve" stroke="#d2d2d2" stroke-width="0.25">1</text>
<text class="cj" x="57.74" y="591.20" font-size="8.4" font-weight="500" fill="#d2d2d2">ヶ月</text>
<text x="82.70" y="591.20" font-size="9.30" fill="#d2d2d2" font-weight="400" textLength="4.65" lengthAdjust="spacingAndGlyphs" xml:space="preserve" stroke="#d2d2d2" stroke-width="0.25">3</text>
<text class="cj" x="87.44" y="591.20" font-size="8.3" font-weight="500" fill="#d2d2d2">ヶ月</text>
<text x="112.70" y="591.20" font-size="9.30" fill="#d2d2d2" font-weight="400" textLength="4.65" lengthAdjust="spacingAndGlyphs" xml:space="preserve" stroke="#d2d2d2" stroke-width="0.25">6</text>
<text class="cj" x="117.44" y="591.20" font-size="8.2" font-weight="500" fill="#d2d2d2">ヶ月</text>
<text class="cj" x="142.79" y="591.20" font-size="8.7" font-weight="500" fill="#d2d2d2">年初来</text>
<text x="176.70" y="591.20" font-size="9.30" fill="#d2d2d2" font-weight="400" textLength="4.65" lengthAdjust="spacingAndGlyphs" xml:space="preserve" stroke="#d2d2d2" stroke-width="0.25">1</text>
<text class="cj" x="181.44" y="591.20" font-size="8.4" font-weight="500" fill="#d2d2d2">年</text>
<text x="197.80" y="591.20" font-size="9.30" fill="#d2d2d2" font-weight="400" textLength="4.65" lengthAdjust="spacingAndGlyphs" xml:space="preserve" stroke="#d2d2d2" stroke-width="0.25">5</text>
<text class="cj" x="202.54" y="591.20" font-size="8.4" font-weight="500" fill="#d2d2d2">年</text>
<text class="cj" x="219.78" y="591.20" font-size="8.0" font-weight="500" fill="#d2d2d2">すべて</text>
<rect x="250.7" y="580.5" width="0.8" height="13.5" fill="#333"/>
<path d="M261.2 586 V583.4 Q261.2 582.4 262.2 582.4 H270.6 Q271.6 582.4 271.6 583.4 V591 Q271.6 592 270.6 592 H266 M263.6 581 v2.6 M269.2 581 v2.6 M261.2 584.8 H271.6 M259.6 589.4 h4.4 m-1.6 -1.6 l1.6 1.6 l-1.6 1.6" fill="none" stroke="#d2d2d2" stroke-width="0.9"/>
<path d="M548.2 598 V577 Q548.2 574.6 550.6 574.6 H752.4 Q754.8 574.6 754.8 577 V598Z" fill="#1d1d1d"/>
<circle cx="553.6" cy="584.1" r="0.6" fill="#4a4a4a"/>
<circle cx="553.6" cy="587.3" r="0.6" fill="#4a4a4a"/>
<circle cx="553.6" cy="590.5" r="0.6" fill="#4a4a4a"/>
<circle cx="557.5" cy="584.1" r="0.6" fill="#4a4a4a"/>
<circle cx="557.5" cy="587.3" r="0.6" fill="#4a4a4a"/>
<circle cx="557.5" cy="590.5" r="0.6" fill="#4a4a4a"/>
<g fill="none" stroke="#c8c8c8" stroke-width="0.9">
<path d="M570.4 591.7 L579.7 582.6"/><circle cx="569.5" cy="592.6" r="1.3"/><circle cx="580.6" cy="581.7" r="1.3"/>
<path d="M593 587.6 H598 M600.6 587.6 H605.9"/><circle cx="599.3" cy="587.6" r="1.3"/>
<circle cx="618.2" cy="587.6" r="1.3"/><path d="M619.5 587.6 H630.1"/>
<path d="M647.4 581.1 V586.3 M647.4 588.9 V594"/><circle cx="647.4" cy="587.6" r="1.3"/>
<path d="M664 592.6 Q666.4 586.4 670.4 585.8 Q674.8 586.6 673.6 590.4 Q671.6 593.4 664 592.6Z M673 582.6 Q673.2 585.2 675.2 585 L679.3 582.2"/>
<rect x="689.5" y="581.7" width="11.1" height="10.9"/><circle cx="689.5" cy="581.7" r="1.2" fill="#1d1d1d"/><circle cx="700.6" cy="581.7" r="1.2" fill="#1d1d1d"/><circle cx="689.5" cy="592.6" r="1.2" fill="#1d1d1d"/><circle cx="700.6" cy="592.6" r="1.2" fill="#1d1d1d"/>
<circle cx="719.1" cy="587.3" r="6.7"/><circle cx="719.1" cy="587.3" r="1.3"/><circle cx="725.7" cy="587.3" r="1.3" fill="#1d1d1d"/>
<path d="M745.6 580.6 L741.6 584.8 L746.2 590.2 L750.4 587 M741.6 584.8 L739.8 589 L742.8 592.2 L746.2 590.2 M739.8 589 L736.4 592.2 H742.8"/>
</g>
<text x="922.10" y="590.60" font-size="9.20" fill="#d2d2d2" font-weight="400" textLength="62.20" lengthAdjust="spacingAndGlyphs" xml:space="preserve" stroke="#d2d2d2" stroke-width="0.25">23:43:26 UTC+9</text>
<rect x="990.7" y="580.5" width="0.8" height="13.5" fill="#333"/>
<path d="M1006.6 582.8 H1010.4 V586.6 M1004.8 591.6 H1001 V587.8" fill="none" stroke="#d2d2d2" stroke-width="1.1"/>
<path d="M9.6 539.2 H17.2 V547.9 H13.4 V542.9 H9.6 Z M23.4 539.2 H27.9 L24 547.9 H19.5 Z" fill="#e4e4e4"/><circle cx="20.1" cy="541" r="1.85" fill="#e4e4e4"/>
<rect x="1021.6" y="548" width="2.4" height="12" rx="1" fill="#111"/><path d="M1022.3 552.5 h1.4 M1022.3 554 h1.4 M1022.3 555.5 h1.4" stroke="#888" stroke-width="0.6"/>
</svg>
</body></html>
